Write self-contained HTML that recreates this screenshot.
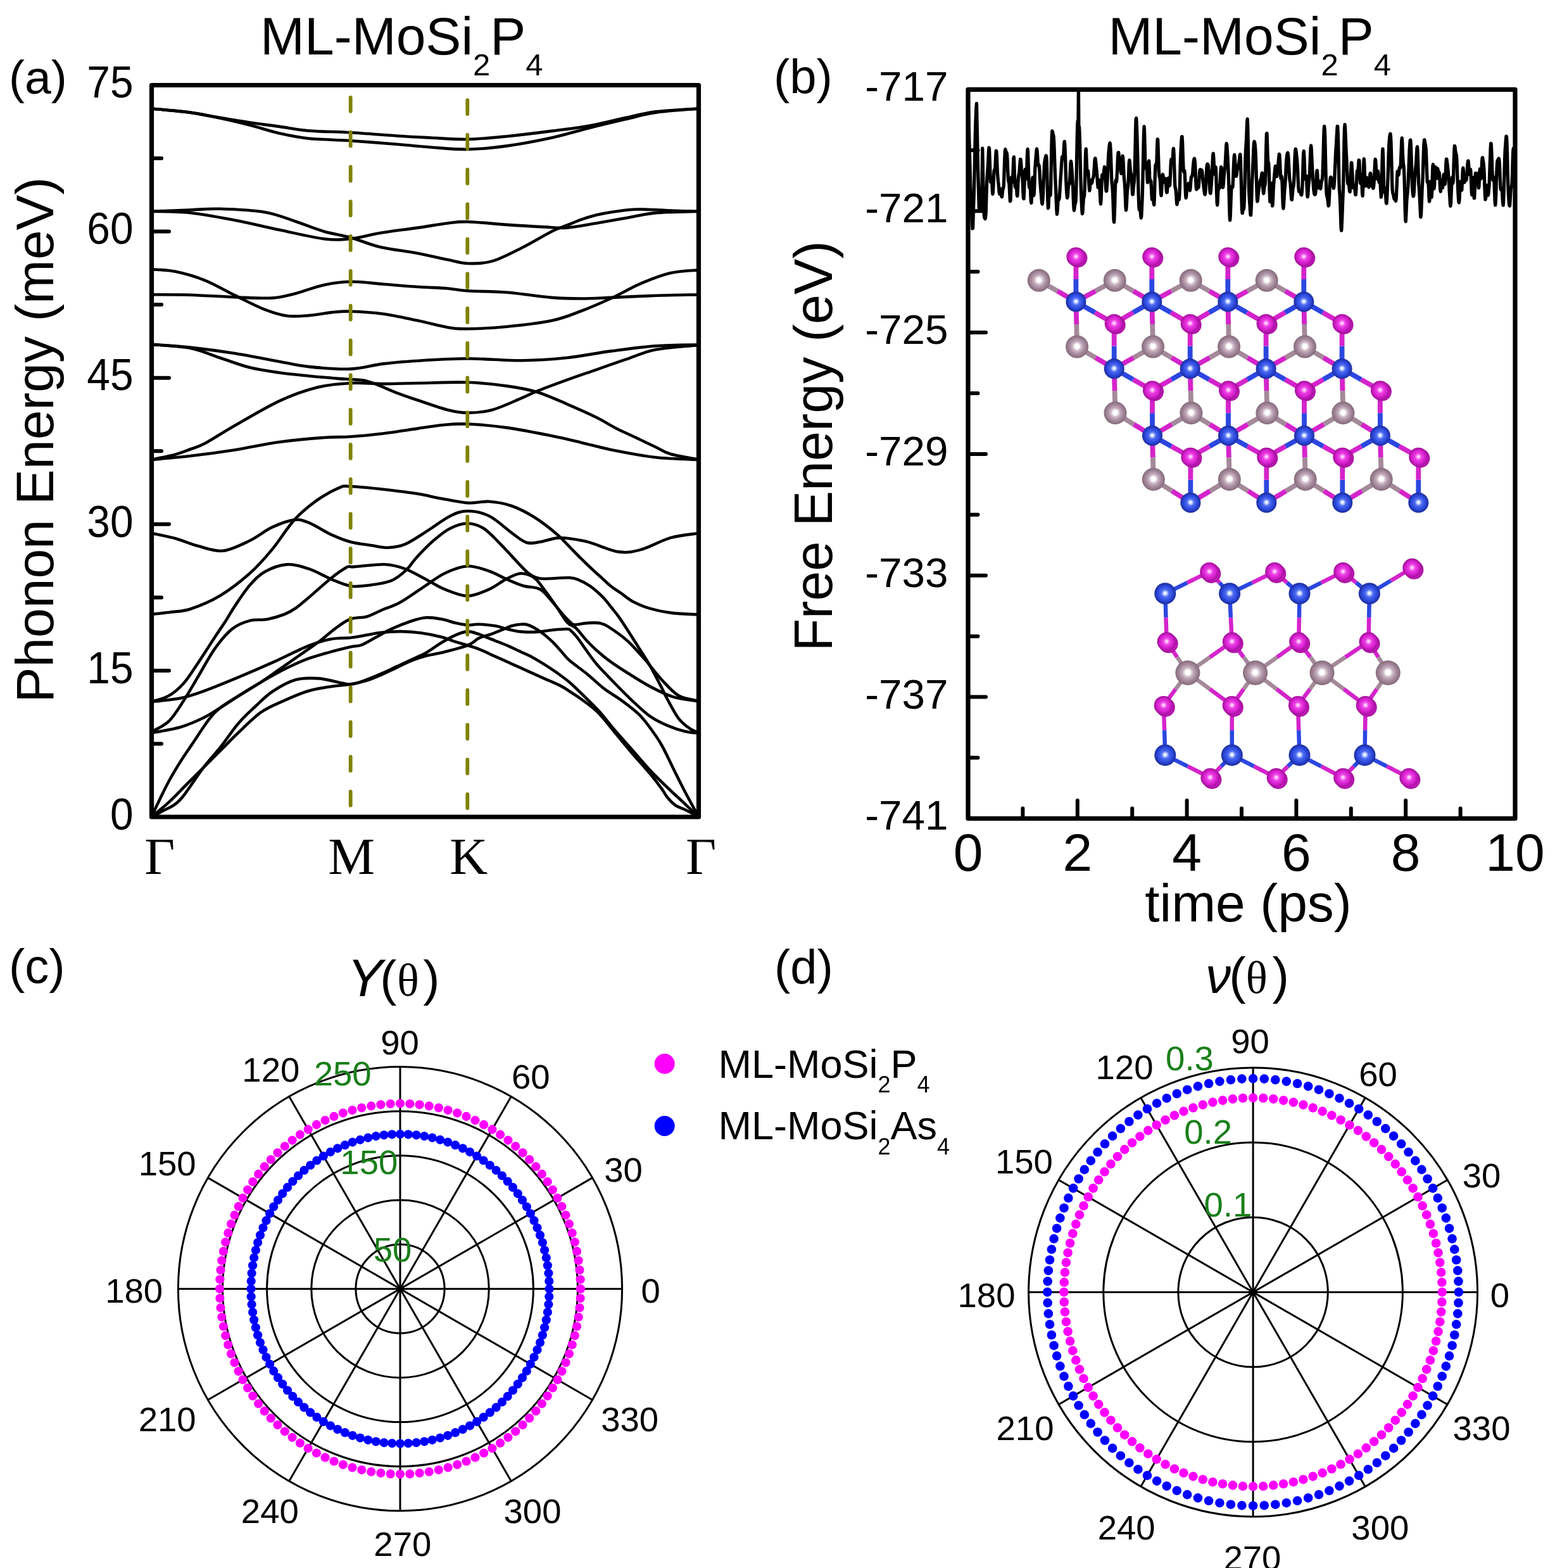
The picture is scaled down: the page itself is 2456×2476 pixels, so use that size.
<!DOCTYPE html><html><head><meta charset="utf-8"><title>ML-MoSi2P4 phonon, AIMD and elastic properties</title>
<style>html,body{margin:0;padding:0;background:#fff;}svg{display:block;}text{font-family:'Liberation Sans', Arial, sans-serif;fill:#000;}</style></head><body>
<svg width="2456" height="2476" viewBox="0 0 2456 2476">
<rect width="2456" height="2476" fill="#fff"/>
<g fill="none" stroke="#000" stroke-width="4.6" stroke-linejoin="round" stroke-linecap="round">
<path d="M239.5,171.5 C249.6,172.5 282,175.2 300,177.6 C318,180 331.7,183.2 347.4,185.8 C363.1,188.5 378.7,191.2 394.4,193.5 C410.1,195.8 425.8,197.7 441.4,199.9 C457,202.1 469.6,204.9 488.3,206.5 C507,208.1 530.1,207.9 553.6,209.3 C577.1,210.7 608.2,213.3 629.3,214.7 C650.4,216.1 661.8,216.6 680,217.5 C698.2,218.4 718.6,220.3 738.7,219.9 C758.9,219.5 778.8,217.4 800.9,215.2 C823,213 849.9,209.7 871.4,206.9 C892.9,204.2 910.4,202.2 930,198.7 C949.6,195.2 971.2,189.5 988.8,185.8 C1006.4,182.1 1016.7,178.8 1035.8,176.4 C1054.9,174 1092.2,172.3 1103.5,171.5"/>
<path d="M239.5,171.5 C249.6,172.5 282,175.1 300,177.6 C318,180.1 331.7,183.2 347.4,186.5 C363.1,189.8 378.7,193.5 394.4,197.5 C410.1,201.5 425.8,207 441.4,210.5 C457,214 469.6,216.8 488.3,218.7 C507,220.6 530.1,220.6 553.6,222.2 C577.1,223.8 608.2,226.3 629.3,228 C650.4,229.7 661.8,231.2 680,232.5 C698.2,233.8 718.6,236.2 738.7,235.8 C758.9,235.5 778.8,233.5 800.9,230.4 C823,227.3 849.9,222.2 871.4,217.5 C892.9,212.8 910.4,207.1 930,202.2 C949.6,197.3 971.2,192.2 988.8,188.1 C1006.4,184 1016.7,180.4 1035.8,177.6 C1054.9,174.8 1092.2,172.5 1103.5,171.5"/>
<path d="M239.5,333.8 C249.6,333.4 282,332.2 300,331.5 C318,330.8 327.8,329.2 347.4,329.8 C367,330.4 398.3,331.8 417.9,335 C437.5,338.2 449.2,343.9 464.9,349 C480.5,354.1 497,361.2 511.8,365.5 C526.6,369.8 538.9,370.9 553.6,375 C568.3,379.1 582.3,385.8 600,390 C617.7,394.2 642.2,396.6 660,400 C677.8,403.4 693.9,407.4 707,410.1 C720.1,412.8 727,415.6 738.7,416 C750.4,416.4 763.1,416.5 777.4,412.4 C791.7,408.3 808.7,399.1 824.4,391.3 C840.1,383.5 859.6,371.4 871.4,365.5 C883.1,359.6 887.1,359.1 894.9,356 C902.7,352.9 910.5,349.4 918.3,346.7 C926.1,344 934,341.6 941.8,339.6 C949.6,337.7 955.5,336.5 965.3,335 C975.1,333.5 988.9,331.3 1000.5,330.7 C1012.1,330.1 1025.2,330.9 1035,331.2 C1044.8,331.5 1047.9,332.2 1059.3,332.6 C1070.7,333 1096.1,333.6 1103.5,333.8"/>
<path d="M239.5,333.8 C249.6,334.2 278.1,333.7 300,336 C321.9,338.3 347.3,343.3 370.9,347.8 C394.5,352.3 417.9,358.1 441.4,363 C464.9,367.9 493.1,374.9 511.8,377.2 C530.5,379.5 538.9,378.5 553.6,377 C568.3,375.5 582.3,370.9 600,368 C617.7,365.1 642.2,362.2 660,359.6 C677.8,357 693.9,354.1 707,352.5 C720.1,350.9 723.1,349.8 738.7,350.2 C754.4,350.6 780.8,353.5 800.9,354.9 C821,356.3 843.9,357.6 859.6,358.4 C875.3,359.2 881.2,360.6 894.9,359.6 C908.6,358.6 926.1,355.1 941.8,352.5 C957.4,349.9 973.1,347 988.8,344.3 C1004.5,341.6 1016.7,337.9 1035.8,336.1 C1054.9,334.4 1092.2,334.2 1103.5,333.8"/>
<path d="M239.5,425.3 C245.8,425.9 262.9,425.9 277,428.8 C291.1,431.7 308.4,436.6 324,442.9 C339.6,449.2 355.2,458.8 370.9,466.4 C386.5,474 404.2,483.3 417.9,488.7 C431.6,494.1 441.4,497.2 453.1,498.8 C464.8,500.4 476.6,499 488.3,498.1 C500.1,497.2 512.7,494.5 523.6,493.4 C534.5,492.3 539.9,491.3 553.6,491.7 C567.3,492.1 588.1,493.3 605.8,495.7 C623.5,498.1 643.1,502.8 660,506.3 C676.9,509.8 693.9,514.8 707,516.9 C720.1,519 723.1,519.4 738.7,519.2 C754.4,519 778.8,517.9 800.9,515.7 C823,513.6 851.8,510.4 871.4,506.3 C891,502.2 902.6,496.9 918.3,491 C933.9,485.1 949.6,478.2 965.3,471 C981,463.8 996.6,454.2 1012.3,447.6 C1028,441 1044.1,434.6 1059.3,431.1 C1074.5,427.6 1096.1,427.2 1103.5,426.4"/>
<path d="M239.5,465.2 C249.7,465.3 278.6,465 300.5,465.7 C322.4,466.4 349.4,468.4 370.9,469.2 C392.4,470 413.9,471.5 429.6,470.6 C445.3,469.7 451.2,467.4 464.9,464 C478.6,460.6 497,453.1 511.8,449.9 C526.6,446.7 537.9,445 553.6,444.8 C569.3,444.6 588.1,447.3 605.8,448.7 C623.5,450.1 643.1,451.9 660,453 C676.9,454.1 693.9,454.4 707,455.5 C720.1,456.6 723.1,458.3 738.7,459.3 C754.4,460.3 778.8,459.9 800.9,461.7 C823,463.5 851.8,468.3 871.4,469.9 C891,471.5 902.6,471.5 918.3,471.5 C933.9,471.5 945.7,470.7 965.3,469.9 C984.9,469.1 1012.8,467.6 1035.8,466.8 C1058.8,466 1092.2,465.5 1103.5,465.2"/>
<path d="M239.5,543.9 C249.7,544.7 278.6,546.2 300.5,548.6 C322.4,551 347.4,554.3 370.9,558 C394.4,561.7 421.8,567.4 441.4,570.9 C461,574.4 469.6,577.1 488.3,579.1 C507,581.1 534,583.4 553.6,582.6 C573.2,581.8 586.4,576.7 605.8,574.4 C625.2,572.1 647.9,570.4 670,569 C692.1,567.6 713,566.2 738.7,566.2 C764.4,566.2 798.4,569.4 824.4,569.2 C850.4,569 871.4,567.5 894.9,565 C918.4,562.5 941.8,557.5 965.3,554.4 C988.8,551.3 1012.8,547.9 1035.8,546.2 C1058.8,544.5 1092.2,544.6 1103.5,544.3"/>
<path d="M239.5,543.9 C249.7,544.9 282.5,546.2 300.5,549.7 C318.5,553.2 331.8,559.9 347.4,565 C363,570.1 378.7,576.4 394.4,580.3 C410.1,584.2 425.8,586.3 441.4,588.5 C457,590.7 472.7,592.1 488.3,593.7 C503.9,595.3 524.4,597 535.3,597.9 C546.2,598.8 545.8,598.2 553.6,599 C561.4,599.8 569.7,598.9 582.3,602.6 C594.9,606.3 616.3,616.5 629.3,621.4 C642.2,626.3 647,627.7 660,632 C673,636.3 693.9,643.9 707,647.2 C720.1,650.5 727,651.9 738.7,651.9 C750.4,651.9 763.1,651.1 777.4,647.2 C791.7,643.3 812.6,633.3 824.4,628.4 C836.1,623.5 836.1,622.5 847.9,617.8 C859.6,613.1 879.2,605.9 894.9,600.2 C910.5,594.5 926.1,589.3 941.8,583.8 C957.4,578.3 973.1,572.7 988.8,567.4 C1004.5,562.1 1016.7,555.8 1035.8,552.1 C1054.9,548.4 1092.2,546.2 1103.5,545"/>
<path d="M239.5,725.8 C245.8,724.4 266.8,720.3 277,717.6 C287.2,714.9 292.7,712.4 300.5,709.5 C308.3,706.6 312.3,706.2 324,700 C335.7,693.8 351.3,683.1 370.9,672 C390.5,660.9 419.9,643.1 441.4,633.1 C462.9,623.1 481.3,616.7 500,612 C518.7,607.3 536,606 553.6,605 C571.2,604 588.1,606.1 605.8,606.1 C623.5,606.1 637.9,605.4 660,605 C682.1,604.6 715.2,603 738.7,603.8 C762.2,604.6 782.7,607.1 800.9,609.6 C819.1,612.1 832.2,614.3 847.9,619 C863.6,623.7 879.2,631.1 894.9,637.8 C910.5,644.5 928.9,652.6 941.8,659 C954.7,665.4 962.7,671 972.4,676 C982.1,681 989.4,684 1000,689 C1010.6,694 1025.9,701.3 1035.8,706 C1045.7,710.7 1048,713.7 1059.3,717 C1070.6,720.3 1096.1,724.3 1103.5,725.8"/>
<path d="M239.5,725.8 C249.7,724.8 278.6,722.5 300.5,720 C322.4,717.5 347.4,714.2 370.9,710.5 C394.4,706.8 417.9,701.2 441.4,698 C464.9,694.8 493.1,692.4 511.8,691 C530.5,689.6 537.9,690.6 553.6,689.5 C569.3,688.4 588.1,686.6 605.8,684.5 C623.5,682.4 644.3,678.9 660,676.6 C675.7,674.4 686.9,672.2 700,671 C713.1,669.8 721.9,668.8 738.7,669.5 C755.5,670.2 778.8,672.3 800.9,675.4 C823,678.5 851.8,684.4 871.4,688.3 C891,692.2 902.6,695.2 918.3,698.9 C933.9,702.5 945.7,706.3 965.3,710.2 C984.9,714.1 1012.8,719.7 1035.8,722.3 C1058.8,724.9 1092.2,725.2 1103.5,725.8"/>
<path d="M239.5,970 C244.6,969.4 259.8,967.9 270,966.5 C280.2,965.1 287.6,966.1 300.5,961.8 C313.4,957.5 331.8,950.2 347.4,940.8 C363,931.4 380.7,917.6 394.4,905.5 C408.1,893.4 417.9,882 429.6,867.9 C441.4,853.8 453.2,833.8 464.9,820.9 C476.6,808 488.3,798.8 500,790.4 C511.7,782 526.4,774.1 535.3,770.4 C544.2,766.7 541.9,767.6 553.6,768 C565.4,768.4 588.1,770.8 605.8,772.8 C623.5,774.8 645.1,777.4 660,779.8 C674.9,782.1 682.1,784.5 695.2,786.9 C708.3,789.3 725.5,793.2 738.5,794.1 C751.5,795 761.4,791.2 773,792 C784.6,792.8 796.6,794.9 808.4,799 C820.2,803.1 832.2,809.4 844,816.8 C855.8,824.2 870.1,835.5 879.4,843.4 C888.7,851.3 894.5,858.4 900,864 C905.5,869.6 907.3,871.7 912.7,877 C918.1,882.3 925.7,889.9 932.2,896 C938.7,902.1 946.3,908.9 951.8,913.9 C957.2,918.9 960.2,922 964.9,925.7 C969.6,929.4 974.2,932.1 980,936.1 C985.8,940.1 991.9,945.9 999.7,950 C1007.5,954.1 1016.2,957.9 1026.8,960.9 C1037.3,963.9 1050.2,966.5 1063,968.1 C1075.8,969.7 1096.8,970.1 1103.5,970.5"/>
<path d="M239.5,842 C245.8,843.4 264.9,847 277,850.3 C289.1,853.6 299.7,858.8 312.2,862 C324.7,865.2 338.4,871.2 352.1,869.8 C365.8,868.4 381.5,860 394.4,853.8 C407.3,847.6 417.9,838.2 429.6,832.7 C441.4,827.2 455.1,822.1 464.9,820.9 C474.7,819.7 478.5,821.7 488.3,825.6 C498.1,829.5 512.7,839.4 523.6,844.4 C534.5,849.4 543.1,852.9 553.6,855.7 C564.1,858.5 576.7,859.7 586.6,861.2 C596.5,862.7 604.3,865 613.2,864.7 C622.1,864.4 629.5,863.8 639.9,859.4 C650.2,855 663.5,845.5 675.3,838.1 C687.1,830.7 700.3,820.2 710.8,815 C721.3,809.8 727.9,807 738.3,807 C748.7,807 761.3,809.2 773,815 C784.7,820.8 798.6,834.6 808.4,841.6 C818.1,848.6 824.1,854.3 831.5,856.7 C838.9,859.1 844.8,857 852.8,855.8 C860.8,854.6 871.5,850.5 879.4,849.6 C887.3,848.7 891.6,849.4 900,850.5 C908.4,851.6 917.2,852.6 930,856.1 C942.8,859.6 963.3,869.4 977,871.4 C990.7,873.4 998.6,871.6 1012.3,867.9 C1026,864.2 1044.1,853.4 1059.3,849.1 C1074.5,844.8 1096.1,843.2 1103.5,842"/>
<path d="M239.5,1108 C244,1106.5 258,1103.7 266.5,1098.8 C275,1093.9 282.7,1087.2 290.3,1078.7 C297.9,1070.2 304,1059.9 312.2,1047.7 C320.4,1035.5 332.2,1017 339.6,1005.7 C347,994.4 351.6,988.1 356.8,980 C362,971.9 364.6,966.4 370.9,957.1 C377.2,947.8 386.5,933.3 394.4,924.3 C402.2,915.3 408.2,908.6 418,903.1 C427.8,897.6 441.4,892.2 453.1,891.4 C464.8,890.6 476.6,894.5 488.3,898.4 C500.1,902.3 512.7,910.3 523.6,914.8 C534.5,919.3 543.8,923.8 553.6,925.4 C563.4,927 571.6,925.7 582.3,924.3 C592.9,922.9 607.7,921.1 617.5,917.2 C627.3,913.3 634.3,906.9 641,900.8 C647.7,894.7 650.4,888.5 657.6,880.7 C664.8,872.9 675.3,861.8 684.2,854.1 C693.1,846.4 701.8,839.1 710.8,834.5 C719.8,829.9 729.4,826.5 738.3,826.5 C747.2,826.5 755.4,829 764.1,834.5 C772.8,840 781.8,850.5 790.7,859.4 C799.6,868.3 809.9,880.1 817.3,887.8 C824.7,895.5 829.2,901.2 835.1,905.5 C841,909.8 845.4,912.2 852.8,913.5 C860.2,914.8 871.5,913.2 879.4,913 C887.3,912.8 894.5,911.9 900,912.3 C905.5,912.7 907.3,913 912.7,915.2 C918.1,917.4 925.7,921.1 932.2,925.7 C938.7,930.3 946.3,937.2 951.8,942.6 C957.2,948 960.2,952.4 964.9,958.3 C969.6,964.2 972.7,967.2 980,977.9 C987.3,988.6 1000.9,1010.2 1008.7,1022.5 C1016.5,1034.8 1020.8,1040.9 1026.8,1051.5 C1032.8,1062.1 1040.5,1077.2 1045,1085.9 C1049.5,1094.7 1049.5,1095.8 1054,1104 C1058.5,1112.2 1066,1127 1072,1134.8 C1078,1142.6 1085,1147.3 1090.3,1151 C1095.5,1154.7 1101.3,1156 1103.5,1157"/>
<path d="M239.5,1155.5 C244,1152.8 258,1147.2 266.5,1139 C275,1130.8 282.7,1117.7 290.3,1106.1 C297.9,1094.5 304,1083.3 312.2,1069.6 C320.4,1055.9 330.5,1036.7 339.6,1023.9 C348.7,1011.1 357.9,1000.2 367,992.9 C376.1,985.6 385.3,982.6 394.4,980.1 C403.5,977.6 412.7,979.7 421.8,978 C430.9,976.3 441.6,973 449.2,970 C456.8,967 461,964.5 467.5,960 C474,955.5 478.9,950.9 488.3,943 C497.7,935.1 513.8,920.3 523.6,912.5 C533.4,904.7 542.1,899 547.1,896.1 C552.1,893.2 551.5,895.1 553.6,894.9 C555.8,894.7 551,895.5 560,894.9 C569,894.3 594.6,890.7 607.9,891.3 C621.2,891.9 628.7,894.2 639.9,898.4 C651.1,902.5 664.9,910.9 675.3,916.2 C685.6,921.5 691.5,926.3 702,930.4 C712.5,934.5 726.5,941 738.3,941 C750.1,941 762.8,934.8 773,930.4 C783.2,926 791.3,918.5 799.6,914.4 C807.9,910.2 815.2,905.8 822.6,905.5 C830,905.2 837.5,907.9 844,912.6 C850.5,917.3 855.8,926.2 861.7,933.9 C867.6,941.6 873.7,950.6 879.4,958.8 C885.1,967 891,977.5 896,983 C901,988.5 904.7,987.3 909.6,991.8 C914.5,996.3 920,1004.4 925.2,1010 C930.4,1015.6 934.5,1020 940.9,1025.7 C947.3,1031.4 955.1,1038.1 963.4,1044.2 C971.7,1050.3 980,1055.7 990.6,1062.3 C1001.2,1068.9 1014.7,1077.8 1026.8,1084.1 C1038.9,1090.4 1050.2,1096.5 1063,1100.4 C1075.8,1104.3 1096.8,1106.3 1103.5,1107.5"/>
<path d="M239.5,1290 C241,1286.8 243.8,1279.9 248.3,1270.6 C252.8,1261.3 260.4,1245.3 266.5,1234 C272.6,1222.7 278.7,1212.7 284.8,1203 C290.9,1193.3 295.5,1186.9 303.1,1175.6 C310.7,1164.3 322.9,1145.2 330.5,1135.4 C338.1,1125.7 340.4,1123.5 348.7,1117.1 C356.9,1110.7 369.3,1103.7 380,1097 C390.7,1090.3 402.7,1083.4 412.7,1076.9 C422.7,1070.4 430.9,1064.4 440,1058 C449.1,1051.6 456.8,1046.1 467.5,1038.6 C478.2,1031.1 493.4,1020.9 504,1013 C514.6,1005.1 523.1,997 531.4,991.1 C539.6,985.2 545.5,980.4 553.5,977.5 C561.5,974.6 570.9,976 579.1,973.7 C587.3,971.4 594,967.2 602.6,963.5 C611.2,959.8 620.4,957.5 631,951.7 C641.6,945.9 654.7,936.3 666.5,928.6 C678.3,920.9 690,911.3 702,905.5 C714,899.7 726.5,894.6 738.3,894 C750.1,893.4 762.8,898.6 773,902 C783.2,905.4 790.7,910.6 799.6,914.4 C808.5,918.2 817.3,922.3 826.2,925 C835.1,927.7 845.4,926.5 852.8,930.4 C860.2,934.2 864.7,941.6 870.6,948.1 C876.5,954.6 883.4,963.8 888.3,969.4 C893.2,975 896.9,978.9 900,981.8 C903.1,984.6 903.2,986.1 907,986.5 C910.8,986.9 917.4,984.9 922.6,984.4 C927.8,983.9 933.9,983.4 938.3,983.4 C942.6,983.4 945.1,983.4 948.7,984.4 C952.3,985.4 953,984.6 960,989.1 C967,993.6 981,1003 990.6,1011.6 C1000.2,1020.2 1008.7,1030.3 1017.8,1040.6 C1026.9,1050.9 1036,1063.5 1045,1073.2 C1054,1082.9 1062.3,1093 1072.1,1098.6 C1081.8,1104.2 1098.3,1105.6 1103.5,1107"/>
<path d="M239.5,1157.3 C247.1,1155.8 271.2,1152.2 284.8,1148.2 C298.4,1144.2 310.7,1138.7 321.3,1133.5 C331.9,1128.3 338,1123.8 348.7,1117.1 C359.4,1110.4 374.6,1100.1 385.3,1093.4 C396,1086.7 402.1,1083 412.7,1076.9 C423.3,1070.8 437,1062.9 449.2,1056.8 C461.4,1050.7 473.6,1045 485.8,1040.4 C498,1035.8 511,1032.6 522.3,1029.4 C533.6,1026.2 545.3,1023.4 553.5,1021.5 C561.7,1019.6 564.4,1020.9 571.3,1018.3 C578.2,1015.7 587,1010 594.8,1005.8 C602.6,1001.6 609.2,997.4 618.3,993.2 C627.4,989 640.5,983.7 649.6,980.7 C658.7,977.7 665.3,975.7 673.1,975.2 C680.9,974.7 688.8,976.2 696.6,977.6 C704.4,979 713.1,982.2 720.1,983.8 C727.1,985.4 732.5,986.7 738.5,987 C744.5,987.3 748.8,985.5 756.1,985.7 C763.4,985.9 774.6,987 782.2,988.3 C789.8,989.6 795.3,992 801.8,993.5 C808.3,995 814.8,996.6 821.3,997.4 C827.8,998.2 835.4,998.1 840.9,998.1 C846.4,998.1 848.6,998 854,997.4 C859.4,996.8 866.6,995.5 873.5,994.8 C880.4,994.1 890.8,993.1 895.5,993.3 C900.2,993.5 899,993.5 901.8,995.9 C904.6,998.2 908.3,1002.4 912.2,1007.4 C916.1,1012.4 920,1018.6 925.2,1025.7 C930.4,1032.8 935.6,1040.9 943.5,1050 C951.4,1059.1 963.1,1070.9 972.5,1080.5 C981.9,1090.1 990.7,1099.1 999.7,1107.6 C1008.8,1116 1017.8,1124.8 1026.8,1131.2 C1035.8,1137.6 1044.9,1141.8 1054,1145.7 C1063.1,1149.6 1073,1152.8 1081.2,1154.8 C1089.5,1156.8 1099.8,1157.5 1103.5,1158"/>
<path d="M239.5,1108 C247.1,1107.1 271.2,1105.2 284.8,1102.5 C298.4,1099.8 306.1,1097 321.3,1091.5 C336.5,1086 357.8,1077.2 376.1,1069.6 C394.4,1062 412.7,1054.1 431,1045.9 C449.3,1037.7 470.6,1026.4 485.8,1020.3 C501,1014.2 511,1011.5 522.3,1009.3 C533.6,1007.1 545.3,1007.9 553.5,1007 C561.7,1006.1 563.1,1005.6 571.3,1004.2 C579.5,1002.8 592.1,999.9 602.6,998.7 C613.1,997.5 623.5,997 634,997.1 C644.5,997.2 654.9,998 665.3,999.5 C675.7,1001 687.5,1003.4 696.6,1005.8 C705.7,1008.1 713.1,1011.4 720.1,1013.6 C727.1,1015.8 732.5,1017.1 738.5,1019 C744.5,1020.9 748.8,1021.9 756.1,1024.8 C763.4,1027.7 773.5,1032.7 782.2,1036.6 C790.9,1040.5 799.6,1044.4 808.3,1048.3 C817,1052.2 825.7,1056.2 834.4,1060.1 C843.1,1064 851.8,1067.9 860.5,1071.8 C869.2,1075.7 880,1080.2 886.6,1083.6 C893.2,1087 894.8,1088.6 900,1092 C905.2,1095.4 910.6,1098.4 918.1,1104 C925.6,1109.6 936.2,1116.7 945.3,1125.8 C954.4,1134.9 963.4,1147.5 972.5,1158.4 C981.6,1169.3 990.7,1180.4 999.7,1191 C1008.8,1201.6 1019.2,1212.8 1026.8,1221.8 C1034.3,1230.8 1040.5,1239.1 1045,1245.3 C1049.5,1251.5 1050.4,1254.6 1054,1259 C1057.6,1263.4 1061.5,1268 1066.7,1271.5 C1071.9,1275 1078.9,1276.9 1085,1280 C1091.1,1283.1 1100.4,1288.3 1103.5,1290"/>
<path d="M239.5,1290 C242.6,1288.3 252,1283.2 258,1280 C264,1276.8 270.3,1274.6 275.7,1270.6 C281.1,1266.6 282.7,1265.8 290.3,1256 C297.9,1246.2 311.6,1224.9 321.3,1212.1 C331,1199.3 339.6,1190.8 348.7,1179.2 C357.8,1167.6 367,1153.4 376.1,1142.7 C385.2,1132 394.4,1123.8 403.5,1115.3 C412.6,1106.8 420.3,1098.5 431,1091.5 C441.7,1084.5 455.3,1076.6 467.5,1073.3 C479.7,1070 491.8,1070.5 504,1071.4 C516.2,1072.3 532.4,1077.2 540.6,1078.7 C548.9,1080.2 548.4,1080.9 553.5,1080.5 C558.6,1080.1 563.1,1079 571.3,1076.2 C579.5,1073.4 593.5,1067.6 602.6,1063.7 C611.7,1059.8 618.3,1056.4 626.1,1052.7 C633.9,1049 641.8,1045.5 649.6,1041.8 C657.4,1038.1 665.3,1035.2 673.1,1030.8 C680.9,1026.4 688.8,1019.9 696.6,1015.2 C704.4,1010.5 713.1,1005.6 720.1,1002.6 C727.1,999.6 732.5,997.3 738.5,997.1 C744.5,996.9 751,999.7 756.1,1001.3 C761.2,1002.9 764.8,1004.9 769.1,1006.6 C773.5,1008.4 776.8,1009.6 782.2,1011.8 C787.7,1014 795.3,1016.8 801.8,1019.6 C808.3,1022.4 814.8,1025.7 821.3,1028.7 C827.8,1031.8 834.4,1034.4 840.9,1037.9 C847.4,1041.4 854,1045.5 860.5,1049.6 C867,1053.7 873.6,1058 880.1,1062.7 C886.6,1067.4 893.3,1072.1 899.6,1077.5 C905.9,1082.9 910.5,1087.6 918.1,1095 C925.7,1102.4 936.2,1112.1 945.3,1122.1 C954.4,1132.1 963.4,1144.2 972.5,1154.8 C981.6,1165.4 990.7,1175.2 999.7,1185.5 C1008.8,1195.8 1017.8,1206.7 1026.8,1216.4 C1035.8,1226.1 1044.9,1234.8 1054,1243.5 C1063.1,1252.2 1073,1261.2 1081.2,1268.9 C1089.5,1276.7 1099.8,1286.5 1103.5,1290"/>
<path d="M239.5,1290 C244,1286.2 257.4,1275.3 266.5,1266.9 C275.6,1258.5 284.8,1248.6 293.9,1239.5 C303,1230.4 312.2,1221.2 321.3,1212.1 C330.4,1203 339.6,1193.8 348.7,1184.7 C357.8,1175.6 365.4,1167.3 376.1,1157.3 C386.8,1147.2 400.5,1132.9 412.7,1124.4 C424.9,1115.9 437,1111.6 449.2,1106.1 C461.4,1100.6 473.6,1095.2 485.8,1091.5 C498,1087.8 511,1086 522.3,1084.2 C533.6,1082.4 544,1082.1 553.5,1080.5 C563,1078.9 570.9,1077.1 579.1,1074.6 C587.3,1072.1 594.8,1068.7 602.6,1065.3 C610.4,1061.9 618.3,1058 626.1,1054.3 C633.9,1050.6 641.8,1046.4 649.6,1043.3 C657.4,1040.2 665.3,1037.6 673.1,1035.5 C680.9,1033.4 685.7,1033.5 696.6,1030.8 C707.5,1028.1 728.6,1022.9 738.5,1019.1 C748.4,1015.3 749.9,1010.9 756.1,1007.9 C762.3,1004.9 769.2,1003.7 775.7,1001.3 C782.2,998.9 789.8,995.7 795.2,993.5 C800.6,991.3 803.5,989.6 808.3,988.3 C813.1,987 819.6,985.9 824,985.7 C828.4,985.5 830.5,985.7 834.4,987 C838.3,988.3 843,990.9 847.4,993.5 C851.8,996.1 856.1,999.2 860.5,1002.7 C864.9,1006.2 869.1,1010.1 873.5,1014.4 C877.9,1018.7 882.2,1023.9 886.6,1028.7 C891,1033.5 892.8,1037.2 899.6,1043.1 C906.4,1049 918.1,1056.8 927.2,1064.2 C936.3,1071.6 945.4,1080.8 954.4,1087.7 C963.4,1094.6 972.5,1099.2 981.5,1105.8 C990.5,1112.4 1001.2,1120.3 1008.7,1127.6 C1016.2,1134.8 1020.8,1141.1 1026.8,1149.3 C1032.8,1157.5 1039,1165.9 1045,1176.5 C1051,1187.1 1057,1200.6 1063,1212.7 C1069,1224.8 1074.5,1236.1 1081.2,1249 C1088,1261.9 1099.8,1283.2 1103.5,1290"/>
</g>
<line x1="553.7" y1="153.8" x2="553.7" y2="1278" stroke="#808000" stroke-width="5.8" stroke-linecap="round" stroke-dasharray="22 32.8"/>
<line x1="738.3" y1="158.1" x2="738.3" y2="1278" stroke="#808000" stroke-width="5.8" stroke-linecap="round" stroke-dasharray="22 32.8"/>
<g stroke="#000" stroke-width="6" stroke-linecap="round">
<line x1="243" y1="1058.9" x2="267" y2="1058.9"/>
<line x1="243" y1="827.8" x2="267" y2="827.8"/>
<line x1="243" y1="596.7" x2="267" y2="596.7"/>
<line x1="243" y1="365.6" x2="267" y2="365.6"/>
<line x1="243" y1="1174.5" x2="255" y2="1174.5"/>
<line x1="243" y1="943.4" x2="255" y2="943.4"/>
<line x1="243" y1="712.2" x2="255" y2="712.2"/>
<line x1="243" y1="481.1" x2="255" y2="481.1"/>
<line x1="243" y1="250" x2="255" y2="250"/>
</g>
<rect x="239.5" y="134.5" width="864" height="1155.5" fill="none" stroke="#000" stroke-width="7.2" stroke-linejoin="round"/>
<text transform="translate(210.5,1309.7) scale(0.94,1)" font-size="70" text-anchor="end">0</text>
<text transform="translate(210.5,1078.6) scale(0.94,1)" font-size="70" text-anchor="end">15</text>
<text transform="translate(210.5,847.5) scale(0.94,1)" font-size="70" text-anchor="end">30</text>
<text transform="translate(210.5,616.4) scale(0.94,1)" font-size="70" text-anchor="end">45</text>
<text transform="translate(210.5,385.3) scale(0.94,1)" font-size="70" text-anchor="end">60</text>
<text transform="translate(210.5,154.2) scale(0.94,1)" font-size="70" text-anchor="end">75</text>
<text transform="translate(84,694.5) rotate(-90)" font-size="83.9" text-anchor="middle">Phonon Energy (meV)</text>
<text x="252.2" y="1379.5" font-size="83" text-anchor="middle" style="font-family:'Liberation Serif', 'Times New Roman', serif">Γ</text>
<text x="555.2" y="1379.5" font-size="83" text-anchor="middle" style="font-family:'Liberation Serif', 'Times New Roman', serif">M</text>
<text x="740.3" y="1379.5" font-size="83" text-anchor="middle" style="font-family:'Liberation Serif', 'Times New Roman', serif">K</text>
<text x="1107.3" y="1379.5" font-size="83" text-anchor="middle" style="font-family:'Liberation Serif', 'Times New Roman', serif">Γ</text>
<text x="411" y="86" font-size="84">ML-MoSi<tspan font-size="49" dy="32.7">2</tspan><tspan dy="-32.7">P</tspan><tspan font-size="49" dy="32.7">4</tspan></text>
<text x="14" y="148" font-size="75">(a)</text>
<text x="1750.4" y="86.1" font-size="84">ML-MoSi<tspan font-size="49" dy="32.7">2</tspan><tspan dy="-32.7">P</tspan><tspan font-size="49" dy="32.7">4</tspan></text>
<text x="1222" y="147" font-size="76">(b)</text>
<g stroke="#000" stroke-width="6" stroke-linecap="round">
<line x1="1532" y1="333.2" x2="1557" y2="333.2"/>
<line x1="1532" y1="525" x2="1557" y2="525"/>
<line x1="1532" y1="716.9" x2="1557" y2="716.9"/>
<line x1="1532" y1="908.8" x2="1557" y2="908.8"/>
<line x1="1532" y1="1100.6" x2="1557" y2="1100.6"/>
<line x1="1532" y1="237.2" x2="1544.5" y2="237.2"/>
<line x1="1532" y1="429.1" x2="1544.5" y2="429.1"/>
<line x1="1532" y1="621" x2="1544.5" y2="621"/>
<line x1="1532" y1="812.8" x2="1544.5" y2="812.8"/>
<line x1="1532" y1="1004.7" x2="1544.5" y2="1004.7"/>
<line x1="1532" y1="1196.6" x2="1544.5" y2="1196.6"/>
<line x1="1615.4" y1="1289" x2="1615.4" y2="1276.5"/>
<line x1="1701.8" y1="1289" x2="1701.8" y2="1264"/>
<line x1="1788.2" y1="1289" x2="1788.2" y2="1276.5"/>
<line x1="1874.6" y1="1289" x2="1874.6" y2="1264"/>
<line x1="1961" y1="1289" x2="1961" y2="1276.5"/>
<line x1="2047.4" y1="1289" x2="2047.4" y2="1264"/>
<line x1="2133.8" y1="1289" x2="2133.8" y2="1276.5"/>
<line x1="2220.2" y1="1289" x2="2220.2" y2="1264"/>
<line x1="2306.6" y1="1289" x2="2306.6" y2="1276.5"/>
</g>
<text x="1497.5" y="159.2" font-size="65.6" text-anchor="end">-717</text>
<text x="1497.5" y="351.1" font-size="65.6" text-anchor="end">-721</text>
<text x="1497.5" y="542.9" font-size="65.6" text-anchor="end">-725</text>
<text x="1497.5" y="734.8" font-size="65.6" text-anchor="end">-729</text>
<text x="1497.5" y="926.7" font-size="65.6" text-anchor="end">-733</text>
<text x="1497.5" y="1118.5" font-size="65.6" text-anchor="end">-737</text>
<text x="1497.5" y="1310.4" font-size="65.6" text-anchor="end">-741</text>
<text x="1529" y="1375" font-size="84" text-anchor="middle">0</text>
<text x="1701.8" y="1375" font-size="84" text-anchor="middle">2</text>
<text x="1874.6" y="1375" font-size="84" text-anchor="middle">4</text>
<text x="2047.4" y="1375" font-size="84" text-anchor="middle">6</text>
<text x="2220.2" y="1375" font-size="84" text-anchor="middle">8</text>
<text x="2393" y="1375" font-size="84" text-anchor="middle">10</text>
<text x="1971.5" y="1455.3" font-size="84" text-anchor="middle">time (ps)</text>
<text transform="translate(1313.5,704.5) rotate(-90)" font-size="84.5" text-anchor="middle">Free Energy (eV)</text>
<polyline fill="none" stroke="#000" stroke-width="5.3" stroke-linejoin="round" points="1529,146.1 1529.5,168.6 1530.1,191.1 1530.6,213.5 1531.2,234 1531.7,254 1532.2,274 1532.8,294 1533.3,314 1533.9,323.4 1534.4,332.8 1534.9,342.2 1535.5,351.7 1536,361.1 1536.6,360 1537.1,343.2 1537.6,326.5 1538.2,309.7 1538.7,289.5 1539.3,264.3 1539.8,239.2 1540.3,214 1540.9,193.8 1541.4,181 1542,168.3 1542.5,163.5 1543,190.5 1543.6,217.4 1544.1,244.4 1544.7,269.9 1545.2,289.4 1545.7,308.9 1546.3,328.4 1546.8,329.4 1547.4,330.4 1547.9,331.4 1548.4,332.4 1549,331 1549.5,320 1550.1,309 1550.6,298 1551.1,287 1551.7,234.2 1552.2,257.7 1552.8,285.2 1553.3,310.6 1553.8,330.2 1554.4,340.5 1554.9,343.8 1555.5,344.7 1556,345.5 1556.5,343.9 1557.1,336.2 1557.6,320.9 1558.2,302 1558.7,286.1 1559.2,277.4 1559.8,269.6 1560.3,263 1560.9,253.5 1561.4,241.6 1561.9,233.1 1562.5,234.2 1563,246.6 1563.6,265 1564.1,280.7 1564.6,287.6 1565.2,285 1565.7,279.5 1566.3,280.1 1566.8,288.7 1567.3,300.2 1567.9,306.5 1568.4,303 1569,291.6 1569.5,279.4 1570,270.4 1570.6,268.3 1571.1,269.2 1571.7,266.7 1572.2,258 1572.7,246.3 1573.3,238.1 1573.8,238.6 1574.4,248 1574.9,261.4 1575.4,273.1 1576,280.9 1576.5,286.3 1577.1,290.4 1577.6,296.6 1578.1,303.1 1578.7,306.4 1579.2,304.8 1579.8,300.6 1580.3,298.1 1580.8,300.1 1581.4,305.6 1581.9,310.4 1582.5,310.9 1583,307.1 1583.5,302.1 1584.1,298.9 1584.6,297.3 1585.2,293.9 1585.7,283.5 1586.2,266.9 1586.8,250.2 1587.3,239 1587.9,235.8 1588.4,238.1 1588.9,240.9 1589.5,241.4 1590,241.1 1590.6,244.2 1591.1,253.3 1591.6,266.6 1592.2,278.9 1592.7,286 1593.3,286.5 1593.8,288.9 1594.3,297 1594.9,309 1595.4,317.8 1596,316.6 1596.5,304.8 1597,289.4 1597.6,279.8 1598.1,280.6 1598.7,286.9 1599.2,287.8 1599.7,279.4 1600.3,263.7 1600.8,250 1601.4,247.9 1601.9,259.4 1602.4,277.6 1603,292 1603.5,295.6 1604.1,290.3 1604.6,286 1605.1,289 1605.7,298.6 1606.2,307.8 1606.8,309.6 1607.3,302.5 1607.8,290.9 1608.4,281.6 1608.9,277.2 1609.5,274.3 1610,270.7 1610.5,264.1 1611.1,256.2 1611.6,251.3 1612.2,252.2 1612.7,258.3 1613.2,265.7 1613.8,271.9 1614.3,277.1 1614.9,282.1 1615.4,291.2 1615.9,303.4 1616.5,313 1617,313.8 1617.6,304 1618.1,287.6 1618.6,273 1619.2,267.5 1619.7,271 1620.3,278.5 1620.8,282.8 1621.3,277.6 1621.9,262.9 1622.4,245.6 1623,235.4 1623.5,238.6 1624,254.1 1624.6,274.4 1625.1,290.5 1625.7,296.2 1626.2,293.7 1626.7,291.9 1627.3,296.6 1627.8,307.6 1628.4,318.3 1628.9,320.6 1629.4,311.5 1630,295.6 1630.5,282.6 1631.1,280.1 1631.6,288.5 1632.1,301.1 1632.7,308.8 1633.2,306.3 1633.8,294.6 1634.3,279.1 1634.8,266.3 1635.4,257.7 1635.9,251 1636.5,244.2 1637,237.9 1637.5,235.2 1638.1,238.4 1638.6,246.5 1639.2,255.3 1639.7,260.7 1640.2,261.5 1640.8,260.6 1641.3,262.3 1641.9,269.2 1642.4,279.2 1642.9,288 1643.5,296 1644,302.7 1644.6,309 1645.1,315.3 1645.6,320.5 1646.2,322.2 1646.7,318.7 1647.3,309.9 1647.8,297.9 1648.3,285.5 1648.9,273.4 1649.4,262.2 1650,255.2 1650.5,251.7 1651,249.7 1651.6,247.6 1652.1,245.7 1652.7,246.9 1653.2,255.5 1653.7,274.1 1654.3,296 1654.8,316.9 1655.4,328.9 1655.9,327.5 1656.4,316.2 1657,303.8 1657.5,298.9 1658.1,302.8 1658.6,309 1659.1,307.9 1659.7,293.1 1660.2,263.4 1660.8,234 1661.3,214.3 1661.8,207 1662.4,208 1662.9,211.1 1663.5,212.9 1664,215.1 1664.5,221.6 1665.1,234.1 1665.6,250.6 1666.2,267.5 1666.7,281.2 1667.2,290.9 1667.8,303.5 1668.3,318.6 1668.9,331.9 1669.4,338.3 1669.9,335.4 1670.5,326.5 1671,317.7 1671.6,313.6 1672.1,314.2 1672.6,315.2 1673.2,312.4 1673.7,304.8 1674.3,295 1674.8,286.2 1675.3,279.3 1675.9,270.8 1676.4,261.9 1677,253.4 1677.5,248 1678,247.3 1678.6,249.7 1679.1,250.8 1679.7,246.5 1680.2,237.1 1680.7,227.3 1681.3,223.4 1681.8,228.6 1682.4,241.8 1682.9,258.8 1683.4,275.9 1684,290.9 1684.5,300.7 1685.1,308.6 1685.6,312.5 1686.1,310.9 1686.7,304.3 1687.2,296.3 1687.8,291.1 1688.3,290.2 1688.8,290.9 1689.4,289.1 1689.9,279.1 1690.5,266.8 1691,257.5 1691.5,254.7 1692.1,258.2 1692.6,264.8 1693.2,272 1693.7,280.5 1694.2,287.9 1694.8,300.3 1695.3,315.5 1695.9,327.7 1696.4,332.3 1696.9,329.5 1697.5,324.2 1698,321.1 1698.6,320.7 1699.1,317.6 1699.6,305.7 1700.2,280.4 1700.7,244.8 1701.3,214.1 1701.8,196 1702.3,190.7 1702.9,203.7 1703.4,141.3 1704,218 1704.5,199.8 1705,209.3 1705.6,227 1706.1,250.8 1706.7,276.1 1707.2,293.4 1707.7,307.7 1708.3,321.1 1708.8,332.1 1709.4,337.7 1709.9,335.8 1710.4,327.8 1711,318.5 1711.5,312.9 1712.1,311.2 1712.6,308.9 1713.1,299.8 1713.7,279.6 1714.2,255.1 1714.8,238 1715.3,235.1 1715.8,245.6 1716.4,261.3 1716.9,272.5 1717.5,274.7 1718,271.3 1718.5,269.7 1719.1,275.3 1719.6,285.2 1720.2,295.9 1720.7,301.1 1721.2,298.8 1721.8,292.2 1722.3,286.5 1722.9,285 1723.4,287 1723.9,289.3 1724.5,289.3 1725,287 1725.6,283.7 1726.1,281.6 1726.6,280.7 1727.2,278.6 1727.7,273.3 1728.3,264.9 1728.8,256.3 1729.3,250.8 1729.9,250.1 1730.4,253.5 1731,258.7 1731.5,263.9 1732,268.9 1732.6,275.1 1733.1,283.1 1733.7,291.5 1734.2,296.1 1734.7,294.8 1735.3,289.4 1735.8,284.2 1736.4,284.3 1736.9,292.3 1737.4,305.7 1738,318 1738.5,322.1 1739.1,315.2 1739.6,300.4 1740.1,285.1 1740.7,276.3 1741.2,275.8 1741.8,278.9 1742.3,281.7 1742.8,279.7 1743.4,273.2 1743.9,266.1 1744.5,263.5 1745,268 1745.5,277.8 1746.1,288.4 1746.6,297.2 1747.2,301.9 1747.7,301.6 1748.2,296.9 1748.8,288.8 1749.3,277.6 1749.9,264.2 1750.4,252.4 1750.9,243.3 1751.5,236.7 1752,231.5 1752.6,227.4 1753.1,225.8 1753.6,229.1 1754.2,238.7 1754.7,253.5 1755.3,270 1755.8,284.4 1756.3,290.8 1756.9,295.1 1757.4,303 1758,316.6 1758.5,333.4 1759,347.1 1759.6,350.8 1760.1,342 1760.7,323.9 1761.2,304 1761.7,289.8 1762.3,284.5 1762.8,286.2 1763.4,287.3 1763.9,282.4 1764.4,272.4 1765,259.4 1765.5,247.7 1766.1,241.1 1766.6,240.7 1767.1,244.6 1767.7,249.9 1768.2,254.3 1768.8,257.9 1769.3,262 1769.8,267.2 1770.4,272.2 1770.9,274 1771.5,270 1772,261.1 1772.5,251.4 1773.1,246.2 1773.6,248.7 1774.2,257.6 1774.7,268.7 1775.2,278.3 1775.8,284.5 1776.3,289.8 1776.9,299.6 1777.4,313.3 1777.9,326 1778.5,331.9 1779,328.3 1779.6,318.1 1780.1,307.3 1780.6,300.4 1781.2,296.9 1781.7,292.9 1782.3,284.8 1782.8,269.7 1783.3,257.3 1783.9,252.8 1784.4,256.7 1785,264.5 1785.5,270.6 1786,273.1 1786.6,275.3 1787.1,279.5 1787.7,288.3 1788.2,299.6 1788.7,307.1 1789.3,307 1789.8,300.9 1790.4,294.1 1790.9,290.5 1791.4,287 1792,275.2 1792.5,255 1793.1,228.5 1793.6,203.4 1794.1,188.2 1794.7,186.6 1795.2,196.1 1795.8,211.3 1796.3,228.8 1796.8,249 1797.4,273.6 1797.9,298.9 1798.5,317 1799,328.3 1799.5,331.3 1800.1,329.4 1800.6,328.8 1801.2,333 1801.7,340 1802.2,344.2 1802.8,341.4 1803.3,331.5 1803.9,318.1 1804.4,303.7 1804.9,283.8 1805.5,257.9 1806,230.6 1806.6,208.2 1807.1,199.7 1807.6,209.1 1808.2,231.3 1808.7,253.9 1809.3,265.9 1809.8,265 1810.3,258.9 1810.9,258.3 1811.4,267.5 1812,281.1 1812.5,288.3 1813,282.8 1813.6,268.2 1814.1,255.5 1814.7,253.9 1815.2,264 1815.7,277.9 1816.3,286.4 1816.8,287 1817.4,285.3 1817.9,286.4 1818.4,295.4 1819,307.6 1819.5,315.1 1820.1,314.2 1820.6,308.9 1821.1,307.1 1821.7,312.5 1822.2,321.1 1822.8,323.5 1823.3,313.5 1823.8,293.5 1824.4,273.8 1824.9,261.4 1825.5,259.7 1826,263.3 1826.5,261.6 1827.1,249.7 1827.6,232.2 1828.2,219.7 1828.7,220.6 1829.2,235 1829.8,255.1 1830.3,271 1830.9,278.4 1831.4,280.1 1831.9,280.6 1832.5,286.3 1833,296.8 1833.6,306.2 1834.1,308.8 1834.6,302.8 1835.2,291.6 1835.7,281 1836.3,275.5 1836.8,276.4 1837.3,281.2 1837.9,285.7 1838.4,287.9 1839,287 1839.5,284.4 1840,281.8 1840.6,281.9 1841.1,285.7 1841.7,292.5 1842.2,299.6 1842.7,304 1843.3,303.7 1843.8,298.5 1844.4,290.8 1844.9,284 1845.4,281.1 1846,283.2 1846.5,288.6 1847.1,293.4 1847.6,292.6 1848.1,284.4 1848.7,271.7 1849.2,259.1 1849.8,251.7 1850.3,251.5 1850.8,255.6 1851.4,258.2 1851.9,254.8 1852.5,245.7 1853,236.6 1853.5,234.5 1854.1,243.2 1854.6,260 1855.2,278.1 1855.7,291.5 1856.2,296.7 1856.8,298.1 1857.3,302.2 1857.9,310.3 1858.4,319 1858.9,322.9 1859.5,319.7 1860,312.6 1860.6,307.4 1861.1,308 1861.6,312.6 1862.2,315.5 1862.7,311.2 1863.3,298.7 1863.8,278.5 1864.3,258.3 1864.9,242.8 1865.4,231.4 1866,222.2 1866.5,216 1867,215.8 1867.6,224.3 1868.1,240.2 1868.7,257.3 1869.2,268.6 1869.7,271.3 1870.3,269.2 1870.8,269.5 1871.4,275.4 1871.9,289.1 1872.4,304 1873,312.5 1873.5,311.7 1874.1,304.6 1874.6,297.1 1875.1,293 1875.7,292.2 1876.2,292 1876.8,290.8 1877.3,289.4 1877.8,290.2 1878.4,294.1 1878.9,298.9 1879.5,300.7 1880,297.4 1880.5,290.2 1881.1,283 1881.6,279.2 1882.2,279.3 1882.7,278.9 1883.2,276.7 1883.8,271.7 1884.3,264.9 1884.9,258.6 1885.4,254 1885.9,251.2 1886.5,250.4 1887,252.6 1887.6,259.3 1888.1,270.7 1888.6,284.4 1889.2,295.1 1889.7,299.2 1890.3,298.3 1890.8,295.2 1891.3,293.6 1891.9,294.7 1892.4,296.6 1893,295.8 1893.5,290.7 1894,282.7 1894.6,274 1895.1,268.5 1895.7,267.8 1896.2,269.6 1896.7,270.7 1897.3,269.9 1897.8,268.5 1898.4,269.2 1898.9,273.4 1899.4,279.8 1900,285.4 1900.5,290.5 1901.1,294.8 1901.6,298.7 1902.1,302.9 1902.7,306.4 1903.2,307.2 1903.8,303.6 1904.3,295.8 1904.8,285.6 1905.4,273.5 1905.9,264.8 1906.5,260.2 1907,258.9 1907.5,259.2 1908.1,260.5 1908.6,263.6 1909.2,270 1909.7,280.1 1910.2,290.4 1910.8,299.4 1911.3,304.8 1911.9,305.2 1912.4,301.4 1912.9,295.3 1913.5,288.3 1914,280.5 1914.6,269.3 1915.1,256.6 1915.6,246.3 1916.2,242.4 1916.7,247.1 1917.3,258.1 1917.8,269.6 1918.3,275.1 1918.9,272.6 1919.4,266.2 1920,263.9 1920.5,268.8 1921,284.1 1921.6,304.1 1922.1,319.5 1922.7,323.9 1923.2,317.4 1923.7,306 1924.3,296.6 1924.8,293.2 1925.4,294.9 1925.9,297.3 1926.4,296.2 1927,288.8 1927.5,278.2 1928.1,268.8 1928.6,263.7 1929.1,264.7 1929.7,271.6 1930.2,282 1930.8,291.1 1931.3,296.2 1931.8,295.4 1932.4,289.4 1932.9,281.5 1933.5,275.1 1934,269.9 1934.5,266.1 1935.1,260.5 1935.6,251.2 1936.2,239.7 1936.7,230.1 1937.2,226.5 1937.8,229.8 1938.3,237.6 1938.9,246.6 1939.4,255.7 1939.9,267.4 1940.5,281.2 1941,300.1 1941.6,322.2 1942.1,340.3 1942.6,347.8 1943.2,342.4 1943.7,328 1944.3,311.6 1944.8,299.6 1945.3,294.5 1945.9,294.6 1946.4,296.1 1947,295 1947.5,285.1 1948,272 1948.6,258.6 1949.1,248.4 1949.7,244.4 1950.2,247.7 1950.7,256.5 1951.3,267 1951.8,275.1 1952.4,278.3 1952.9,276.9 1953.4,273.1 1954,269.2 1954.5,266.5 1955.1,264.8 1955.6,263.3 1956.1,261.3 1956.7,258.4 1957.2,254.3 1957.8,249.2 1958.3,244.5 1958.8,243.9 1959.4,251.8 1959.9,270.5 1960.5,292.2 1961,314.6 1961.5,330.7 1962.1,336.7 1962.6,334.9 1963.2,331.2 1963.7,330.1 1964.2,330.6 1964.8,327.5 1965.3,315.9 1965.9,296.4 1966.4,275 1966.9,251.5 1967.5,237.4 1968,229.2 1968.6,220.1 1969.1,206.6 1969.6,192.9 1970.2,187.8 1970.7,198.6 1971.3,225 1971.8,259.1 1972.3,290.8 1972.9,307 1973.4,316.1 1974,323.6 1974.5,332.1 1975,339.1 1975.6,339.8 1976.1,331.1 1976.7,315.3 1977.2,297.9 1977.7,284.2 1978.3,274 1978.8,260.3 1979.4,247.3 1979.9,235.5 1980.4,226.9 1981,223.5 1981.5,224.5 1982.1,228 1982.6,233 1983.1,241.3 1983.7,255.7 1984.2,276.5 1984.8,295.2 1985.3,310.8 1985.8,318.1 1986.4,316.5 1986.9,310.1 1987.5,303.7 1988,299.8 1988.5,297.2 1989.1,293.9 1989.6,289.7 1990.2,286.3 1990.7,283.5 1991.2,283 1991.8,282.2 1992.3,278.9 1992.9,274.8 1993.4,273.1 1993.9,277.9 1994.5,288.8 1995,300.1 1995.6,305.5 1996.1,303.3 1996.6,297.5 1997.2,293.7 1997.7,293.4 1998.3,289.3 1998.8,276 1999.3,253.3 1999.9,227.8 2000.4,211.1 2001,210.6 2001.5,224.4 2002,242.1 2002.6,253.5 2003.1,256.4 2003.7,257.8 2004.2,267.2 2004.7,286.7 2005.3,306.3 2005.8,318.5 2006.4,316.4 2006.9,303.5 2007.4,290.9 2008,289.2 2008.5,299.9 2009.1,315.5 2009.6,325.2 2010.1,323.3 2010.7,312.2 2011.2,298.8 2011.8,288.9 2012.3,283.1 2012.8,277.1 2013.4,270.5 2013.9,264.5 2014.5,262.3 2015,265.6 2015.5,272.3 2016.1,277.9 2016.6,278.8 2017.2,275.1 2017.7,269.4 2018.2,264.1 2018.8,259.3 2019.3,253.8 2019.9,247.6 2020.4,243.4 2020.9,245 2021.5,253.8 2022,266.5 2022.6,277.3 2023.1,281.9 2023.6,281.6 2024.2,278.4 2024.7,282.2 2025.3,294.6 2025.8,311.3 2026.3,324.6 2026.9,329.1 2027.4,324.8 2028,315.6 2028.5,306.4 2029,299.2 2029.6,293 2030.1,286 2030.7,276.2 2031.2,264 2031.7,254.4 2032.3,248.2 2032.8,244.3 2033.4,241.9 2033.9,241.2 2034.4,243.5 2035,250.1 2035.5,260.1 2036.1,270.9 2036.6,279.8 2037.1,284.7 2037.7,287 2038.2,291.8 2038.8,299.8 2039.3,308.8 2039.8,315 2040.4,315.5 2040.9,310.7 2041.5,303.9 2042,298.5 2042.5,295.6 2043.1,293.4 2043.6,287.7 2044.2,275.3 2044.7,260.3 2045.2,246.5 2045.8,237.7 2046.3,235.2 2046.9,237.7 2047.4,242.2 2047.9,246.8 2048.5,251.7 2049,258.6 2049.6,268.6 2050.1,281.4 2050.6,292.9 2051.2,299.7 2051.7,302.6 2052.3,302.5 2052.8,301.4 2053.3,301.3 2053.9,302.9 2054.4,305.4 2055,307.5 2055.5,308 2056,306 2056.6,300.5 2057.1,289.9 2057.7,272.8 2058.2,255.2 2058.7,242.2 2059.3,238.5 2059.8,245.7 2060.4,260 2060.9,274.4 2061.4,282.5 2062,283.1 2062.5,280.1 2063.1,277.5 2063.6,282.9 2064.1,294.4 2064.7,305.8 2065.2,310.9 2065.8,307.7 2066.3,299.5 2066.8,291.8 2067.4,287.4 2067.9,282.8 2068.5,274.1 2069,261.1 2069.5,246 2070.1,234 2070.6,229.8 2071.2,234.4 2071.7,244.7 2072.2,256.8 2072.8,267.9 2073.3,278 2073.9,287.4 2074.4,294 2074.9,300 2075.5,304.3 2076,306.5 2076.6,307.4 2077.1,307.4 2077.6,305.4 2078.2,299.5 2078.7,289.4 2079.3,278 2079.8,270.4 2080.3,269.2 2080.9,276.5 2081.4,287.3 2082,295.2 2082.5,296.6 2083,292 2083.6,286.7 2084.1,286.3 2084.7,290.9 2085.2,296.3 2085.7,298 2086.3,294.7 2086.8,289.1 2087.4,285.4 2087.9,285.4 2088.4,282.1 2089,274.9 2089.5,261.1 2090.1,241.6 2090.6,221.2 2091.1,205.6 2091.7,199.3 2092.2,203.8 2092.8,218.1 2093.3,239.3 2093.8,263.7 2094.4,286.9 2094.9,302.2 2095.5,308.7 2096,310.9 2096.5,312.2 2097.1,315.5 2097.6,320.8 2098.2,325.1 2098.7,324.3 2099.2,316.8 2099.8,304.4 2100.3,291.7 2100.9,283.1 2101.4,280.1 2101.9,279.8 2102.5,280.5 2103,281.3 2103.6,282.2 2104.1,284.4 2104.6,287.3 2105.2,291.3 2105.7,295.3 2106.3,297.2 2106.8,295.4 2107.3,289.6 2107.9,280.8 2108.4,268.4 2109,255.1 2109.5,244.1 2110,235.3 2110.6,227.1 2111.1,217.5 2111.7,207.1 2112.2,199.3 2112.7,199.6 2113.3,211.5 2113.8,233.9 2114.4,261 2114.9,286.1 2115.4,298.7 2116,306.1 2116.5,315.5 2117.1,329.8 2117.6,347 2118.1,360.4 2118.7,364.1 2119.2,357 2119.8,343.3 2120.3,328.6 2120.8,315.5 2121.4,302.1 2121.9,282.5 2122.5,252.6 2123,223.7 2123.5,203.4 2124.1,196.7 2124.6,202.7 2125.2,215.5 2125.7,229 2126.2,240.3 2126.8,250.8 2127.3,262.7 2127.9,276.2 2128.4,286.6 2128.9,290.5 2129.5,290.6 2130,290.1 2130.6,292.1 2131.1,297.4 2131.6,302.6 2132.2,302.8 2132.7,295.5 2133.3,280.4 2133.8,265.5 2134.3,256.9 2134.9,257.2 2135.4,264.9 2136,276.3 2136.5,287.5 2137,294.9 2137.6,296.7 2138.1,295.4 2138.7,293.4 2139.2,293.3 2139.7,296.7 2140.3,302.7 2140.8,307.6 2141.4,307.2 2141.9,299.8 2142.4,288 2143,277.3 2143.5,270.2 2144.1,269.3 2144.6,269.9 2145.1,267 2145.7,259.6 2146.2,252.8 2146.8,253.1 2147.3,263 2147.8,277.7 2148.4,288.6 2148.9,289.6 2149.5,281.9 2150,275.6 2150.5,278.7 2151.1,291.4 2151.6,305.3 2152.2,309.3 2152.7,298.3 2153.2,276.6 2153.8,257.1 2154.3,250.8 2154.9,259.4 2155.4,275.7 2155.9,289.3 2156.5,293.9 2157,290.3 2157.6,284.3 2158.1,280.2 2158.6,280.3 2159.2,282.9 2159.7,285.8 2160.3,288.1 2160.8,290.8 2161.3,293.8 2161.9,295.7 2162.4,294 2163,288.2 2163.5,280.4 2164,274.4 2164.6,273.6 2165.1,277.8 2165.7,284.1 2166.2,289.6 2166.7,292.7 2167.3,294 2167.8,295.1 2168.4,296.5 2168.9,297.3 2169.4,295.6 2170,290 2170.5,280.6 2171.1,268 2171.6,257.1 2172.1,251.5 2172.7,253.4 2173.2,261.8 2173.8,272.7 2174.3,280.9 2174.8,282.6 2175.4,278.2 2175.9,272.3 2176.5,270.4 2177,274.2 2177.5,281.2 2178.1,287.3 2178.6,288.6 2179.2,286.2 2179.7,285.5 2180.2,291.2 2180.8,302.3 2181.3,311.4 2181.9,308.1 2182.4,289.3 2182.9,262.6 2183.5,240.8 2184,235.1 2184.6,247.7 2185.1,270.8 2185.6,292.5 2186.2,303.4 2186.7,302.3 2187.3,298 2187.8,297.8 2188.3,304.1 2188.9,313.6 2189.4,320.6 2190,321.3 2190.5,315.3 2191,304.9 2191.6,292.4 2192.1,278.9 2192.7,260.6 2193.2,244.1 2193.7,231 2194.3,222 2194.8,216.2 2195.4,212.5 2195.9,211.2 2196.4,214.3 2197,224.5 2197.5,242.1 2198.1,264.3 2198.6,285.8 2199.1,299.1 2199.7,304.3 2200.2,306.2 2200.8,308 2201.3,310.7 2201.8,313.3 2202.4,314.5 2202.9,314.5 2203.5,314.8 2204,316.3 2204.5,317.4 2205.1,314.5 2205.6,305.4 2206.2,291.5 2206.7,278.2 2207.2,270.8 2207.8,270.3 2208.3,274 2208.9,276.4 2209.4,274 2209.9,268.5 2210.5,264.3 2211,264.1 2211.6,265.5 2212.1,262.9 2212.6,252.6 2213.2,236.6 2213.7,222.5 2214.3,218 2214.8,225.5 2215.3,239.6 2215.9,252.3 2216.4,258.7 2217,261.4 2217.5,268.2 2218,280 2218.6,302.1 2219.1,327.2 2219.7,345.2 2220.2,349.8 2220.7,342.1 2221.3,328.8 2221.8,317 2222.4,309.8 2222.9,305.6 2223.4,300.9 2224,293.4 2224.5,280.8 2225.1,264.2 2225.6,249.5 2226.1,237.4 2226.7,227.8 2227.2,221.7 2227.8,221.1 2228.3,227.6 2228.8,241.2 2229.4,259.4 2229.9,278.3 2230.5,292.7 2231,301.3 2231.5,307 2232.1,310 2232.6,309.5 2233.2,304.5 2233.7,295.5 2234.2,285.1 2234.8,276.8 2235.3,269.4 2235.9,264.3 2236.4,259.5 2236.9,252.1 2237.5,242.1 2238,233.5 2238.6,231.8 2239.1,239.9 2239.6,256.3 2240.2,275.6 2240.7,290.1 2241.3,297.4 2241.8,303.6 2242.3,312.5 2242.9,324.8 2243.4,336.9 2244,342.9 2244.5,339.5 2245,327.7 2245.6,312.7 2246.1,299.2 2246.7,288.8 2247.2,278.5 2247.7,261.7 2248.3,244.2 2248.8,229.7 2249.4,221.6 2249.9,220.7 2250.4,223.9 2251,227.3 2251.5,229.8 2252.1,234 2252.6,243.4 2253.1,258.5 2253.7,274.9 2254.2,286.8 2254.8,288.3 2255.3,286.1 2255.8,287.5 2256.4,296.4 2256.9,309.5 2257.5,318.2 2258,315.8 2258.5,303.4 2259.1,290.3 2259.6,286.6 2260.2,294.8 2260.7,307.2 2261.2,311.4 2261.8,300.7 2262.3,280.1 2262.9,262.7 2263.4,259.7 2263.9,271.6 2264.5,288.8 2265,297.9 2265.6,292.7 2266.1,278.4 2266.6,266 2267.2,263.8 2267.7,270.9 2268.3,279.5 2268.8,282 2269.3,277 2269.9,269.7 2270.4,266 2271,267.5 2271.5,271 2272,272.4 2272.6,271.6 2273.1,272.5 2273.7,279.1 2274.2,289.9 2274.7,299.6 2275.3,302.5 2275.8,297.3 2276.4,289.1 2276.9,284.9 2277.4,287.6 2278,293.7 2278.5,296.6 2279.1,292.2 2279.6,282.9 2280.1,275.6 2280.7,276.1 2281.2,283.5 2281.8,290.3 2282.3,290.8 2282.8,282.5 2283.4,269 2283.9,257 2284.5,251.1 2285,251.8 2285.5,255.9 2286.1,260.7 2286.6,265.1 2287.2,270.4 2287.7,277.6 2288.2,284.9 2288.8,293.4 2289.3,303.1 2289.9,313.2 2290.4,321.7 2290.9,325.4 2291.5,321.3 2292,309.6 2292.6,294.6 2293.1,283.2 2293.6,280 2294.2,284.3 2294.7,289.5 2295.3,284.8 2295.8,271.4 2296.3,253.3 2296.9,237.8 2297.4,230.4 2298,231.4 2298.5,236.4 2299,240.5 2299.6,242.2 2300.1,243.9 2300.7,249.2 2301.2,260.1 2301.7,275.7 2302.3,289.1 2302.8,301.8 2303.4,312.2 2303.9,318.9 2304.4,320.1 2305,314.9 2305.5,304.5 2306.1,293.2 2306.6,286.7 2307.1,287.8 2307.7,294.5 2308.2,300.6 2308.8,300.2 2309.3,291.2 2309.8,277.6 2310.4,267.4 2310.9,265.2 2311.5,270.8 2312,279.4 2312.5,285.9 2313.1,288 2313.6,286.5 2314.2,284.2 2314.7,283.5 2315.2,284.4 2315.8,284.4 2316.3,281.9 2316.9,276.2 2317.4,268.1 2317.9,259.9 2318.5,254.4 2319,254 2319.6,259.2 2320.1,267.4 2320.6,274.1 2321.2,275.5 2321.7,271.6 2322.3,267.3 2322.8,269.1 2323.3,279 2323.9,293.9 2324.4,306 2325,307.8 2325.5,298.6 2326,286 2326.6,280.4 2327.1,286.9 2327.7,301.4 2328.2,313 2328.7,312.8 2329.3,300.2 2329.8,283.7 2330.4,273.5 2330.9,273.8 2331.4,280 2332,284.7 2332.5,282.9 2333.1,276.9 2333.6,273.8 2334.1,278.6 2334.7,288.9 2335.2,296.9 2335.8,295.9 2336.3,285.8 2336.8,273.4 2337.4,266.8 2337.9,269.7 2338.5,277.6 2339,282.4 2339.5,278.6 2340.1,267.6 2340.6,255.8 2341.2,249 2341.7,248.9 2342.2,252.4 2342.8,256.2 2343.3,260 2343.9,266.7 2344.4,279.1 2344.9,295 2345.5,308.4 2346,315.2 2346.6,312.9 2347.1,304.3 2347.6,295.8 2348.2,292.5 2348.7,295.6 2349.3,302 2349.8,307.1 2350.3,308.3 2350.9,305.7 2351.4,300.5 2352,293.4 2352.5,281.1 2353,266.4 2353.6,250.1 2354.1,235.4 2354.7,226.5 2355.2,226.9 2355.7,236.8 2356.3,252.6 2356.8,268.8 2357.4,280 2357.9,284.4 2358.4,283.4 2359,279.6 2359.5,281.2 2360.1,290.5 2360.6,304.7 2361.1,318 2361.7,323.9 2362.2,319.3 2362.8,305.6 2363.3,288.1 2363.8,272.8 2364.4,261.2 2364.9,254.9 2365.5,252.9 2366,252.3 2366.5,251.3 2367.1,250.2 2367.6,251.3 2368.2,256.7 2368.7,267.1 2369.2,280.8 2369.8,293.2 2370.3,299 2370.9,300.1 2371.4,298.6 2371.9,298.2 2372.5,302.4 2373,311.1 2373.6,320.3 2374.1,324.2 2374.6,318.4 2375.2,303.7 2375.7,284.1 2376.3,262 2376.8,245.9 2377.3,235.5 2377.9,227.7 2378.4,220.4 2379,215.1 2379.5,215.6 2380,225.2 2380.6,243.4 2381.1,266.2 2381.7,288.4 2382.2,302.4 2382.7,311.6 2383.3,318.8 2383.8,323.9 2384.4,325.1 2384.9,320.7 2385.4,311.7 2386,302.1 2386.5,296.3 2387.1,295.1 2387.6,294.8 2388.1,287.8 2388.7,271.3 2389.2,252.3 2389.8,238.2 2390.3,234.3 2390.8,239.8 2391.4,247.9 2391.9,251.2 2392.5,248.2 2393,244.6"/>
<defs><radialGradient id="gMo" cx="0.5" cy="0.5" r="0.5" fx="0.5" fy="0.48"><stop offset="0" stop-color="#ffffff"/><stop offset="0.18" stop-color="#ffffff"/><stop offset="0.42" stop-color="#c7b0bf"/><stop offset="0.7" stop-color="#a3899b"/><stop offset="1" stop-color="#846a7a"/></radialGradient><radialGradient id="gSi" cx="0.5" cy="0.5" r="0.5" fx="0.5" fy="0.48"><stop offset="0" stop-color="#f4faff"/><stop offset="0.12" stop-color="#dfeaff"/><stop offset="0.35" stop-color="#4d6cf2"/><stop offset="0.7" stop-color="#2c48dc"/><stop offset="1" stop-color="#1a2c9a"/></radialGradient><radialGradient id="gP" cx="0.5" cy="0.5" r="0.5" fx="0.5" fy="0.48"><stop offset="0" stop-color="#ffe8fd"/><stop offset="0.1" stop-color="#ffc8fa"/><stop offset="0.35" stop-color="#ee3fe6"/><stop offset="0.7" stop-color="#d41fcc"/><stop offset="1" stop-color="#a01098"/></radialGradient></defs>
<g>
<line x1="1699.4" y1="476.5" x2="1699.4" y2="441" stroke="#2b47e0" stroke-width="7.8"/><line x1="1699.4" y1="441" x2="1699.4" y2="405.5" stroke="#d423cb" stroke-width="7.8"/>
<line x1="1699.4" y1="476.5" x2="1729.5" y2="493.7" stroke="#2b47e0" stroke-width="7.8"/><line x1="1729.5" y1="493.7" x2="1759.7" y2="510.9" stroke="#d423cb" stroke-width="7.8"/>
<line x1="1819.3" y1="476.5" x2="1819.3" y2="441" stroke="#2b47e0" stroke-width="7.8"/><line x1="1819.3" y1="441" x2="1819.3" y2="405.5" stroke="#d423cb" stroke-width="7.8"/>
<line x1="1819.3" y1="476.5" x2="1849.5" y2="493.7" stroke="#2b47e0" stroke-width="7.8"/><line x1="1849.5" y1="493.7" x2="1879.7" y2="510.9" stroke="#d423cb" stroke-width="7.8"/>
<line x1="1819.3" y1="476.5" x2="1789.5" y2="493.7" stroke="#2b47e0" stroke-width="7.8"/><line x1="1789.5" y1="493.7" x2="1759.7" y2="510.9" stroke="#d423cb" stroke-width="7.8"/>
<line x1="1939.3" y1="476.5" x2="1939.3" y2="441" stroke="#2b47e0" stroke-width="7.8"/><line x1="1939.3" y1="441" x2="1939.3" y2="405.5" stroke="#d423cb" stroke-width="7.8"/>
<line x1="1939.3" y1="476.5" x2="1969.5" y2="493.7" stroke="#2b47e0" stroke-width="7.8"/><line x1="1969.5" y1="493.7" x2="1999.6" y2="510.9" stroke="#d423cb" stroke-width="7.8"/>
<line x1="1939.3" y1="476.5" x2="1909.5" y2="493.7" stroke="#2b47e0" stroke-width="7.8"/><line x1="1909.5" y1="493.7" x2="1879.7" y2="510.9" stroke="#d423cb" stroke-width="7.8"/>
<line x1="2059.3" y1="476.5" x2="2059.3" y2="441" stroke="#2b47e0" stroke-width="7.8"/><line x1="2059.3" y1="441" x2="2059.3" y2="405.5" stroke="#d423cb" stroke-width="7.8"/>
<line x1="2059.3" y1="476.5" x2="2089.4" y2="493.7" stroke="#2b47e0" stroke-width="7.8"/><line x1="2089.4" y1="493.7" x2="2119.6" y2="510.9" stroke="#d423cb" stroke-width="7.8"/>
<line x1="2059.3" y1="476.5" x2="2029.4" y2="493.7" stroke="#2b47e0" stroke-width="7.8"/><line x1="2029.4" y1="493.7" x2="1999.6" y2="510.9" stroke="#d423cb" stroke-width="7.8"/>
<line x1="1759.7" y1="582.2" x2="1759.7" y2="546.6" stroke="#2b47e0" stroke-width="7.8"/><line x1="1759.7" y1="546.6" x2="1759.7" y2="510.9" stroke="#d423cb" stroke-width="7.8"/>
<line x1="1759.7" y1="582.2" x2="1789.9" y2="599.3" stroke="#2b47e0" stroke-width="7.8"/><line x1="1789.9" y1="599.3" x2="1820" y2="616.3" stroke="#d423cb" stroke-width="7.8"/>
<line x1="1879.7" y1="582.2" x2="1879.7" y2="546.6" stroke="#2b47e0" stroke-width="7.8"/><line x1="1879.7" y1="546.6" x2="1879.7" y2="510.9" stroke="#d423cb" stroke-width="7.8"/>
<line x1="1879.7" y1="582.2" x2="1909.8" y2="599.3" stroke="#2b47e0" stroke-width="7.8"/><line x1="1909.8" y1="599.3" x2="1940" y2="616.3" stroke="#d423cb" stroke-width="7.8"/>
<line x1="1879.7" y1="582.2" x2="1849.9" y2="599.3" stroke="#2b47e0" stroke-width="7.8"/><line x1="1849.9" y1="599.3" x2="1820" y2="616.3" stroke="#d423cb" stroke-width="7.8"/>
<line x1="1999.6" y1="582.2" x2="1999.6" y2="546.6" stroke="#2b47e0" stroke-width="7.8"/><line x1="1999.6" y1="546.6" x2="1999.6" y2="510.9" stroke="#d423cb" stroke-width="7.8"/>
<line x1="1999.6" y1="582.2" x2="2029.8" y2="599.3" stroke="#2b47e0" stroke-width="7.8"/><line x1="2029.8" y1="599.3" x2="2060" y2="616.3" stroke="#d423cb" stroke-width="7.8"/>
<line x1="1999.6" y1="582.2" x2="1969.8" y2="599.3" stroke="#2b47e0" stroke-width="7.8"/><line x1="1969.8" y1="599.3" x2="1940" y2="616.3" stroke="#d423cb" stroke-width="7.8"/>
<line x1="2119.6" y1="582.2" x2="2119.6" y2="546.6" stroke="#2b47e0" stroke-width="7.8"/><line x1="2119.6" y1="546.6" x2="2119.6" y2="510.9" stroke="#d423cb" stroke-width="7.8"/>
<line x1="2119.6" y1="582.2" x2="2149.8" y2="599.3" stroke="#2b47e0" stroke-width="7.8"/><line x1="2149.8" y1="599.3" x2="2179.9" y2="616.3" stroke="#d423cb" stroke-width="7.8"/>
<line x1="2119.6" y1="582.2" x2="2089.8" y2="599.3" stroke="#2b47e0" stroke-width="7.8"/><line x1="2089.8" y1="599.3" x2="2060" y2="616.3" stroke="#d423cb" stroke-width="7.8"/>
<line x1="1820" y1="688" x2="1820" y2="652.2" stroke="#2b47e0" stroke-width="7.8"/><line x1="1820" y1="652.2" x2="1820" y2="616.3" stroke="#d423cb" stroke-width="7.8"/>
<line x1="1820" y1="688" x2="1850.2" y2="704.9" stroke="#2b47e0" stroke-width="7.8"/><line x1="1850.2" y1="704.9" x2="1880.4" y2="721.7" stroke="#d423cb" stroke-width="7.8"/>
<line x1="1940" y1="688" x2="1940" y2="652.2" stroke="#2b47e0" stroke-width="7.8"/><line x1="1940" y1="652.2" x2="1940" y2="616.3" stroke="#d423cb" stroke-width="7.8"/>
<line x1="1940" y1="688" x2="1970.2" y2="704.9" stroke="#2b47e0" stroke-width="7.8"/><line x1="1970.2" y1="704.9" x2="2000.3" y2="721.7" stroke="#d423cb" stroke-width="7.8"/>
<line x1="1940" y1="688" x2="1910.2" y2="704.9" stroke="#2b47e0" stroke-width="7.8"/><line x1="1910.2" y1="704.9" x2="1880.4" y2="721.7" stroke="#d423cb" stroke-width="7.8"/>
<line x1="2060" y1="688" x2="2060" y2="652.2" stroke="#2b47e0" stroke-width="7.8"/><line x1="2060" y1="652.2" x2="2060" y2="616.3" stroke="#d423cb" stroke-width="7.8"/>
<line x1="2060" y1="688" x2="2090.1" y2="704.9" stroke="#2b47e0" stroke-width="7.8"/><line x1="2090.1" y1="704.9" x2="2120.3" y2="721.7" stroke="#d423cb" stroke-width="7.8"/>
<line x1="2060" y1="688" x2="2030.2" y2="704.9" stroke="#2b47e0" stroke-width="7.8"/><line x1="2030.2" y1="704.9" x2="2000.3" y2="721.7" stroke="#d423cb" stroke-width="7.8"/>
<line x1="2179.9" y1="688" x2="2179.9" y2="652.2" stroke="#2b47e0" stroke-width="7.8"/><line x1="2179.9" y1="652.2" x2="2179.9" y2="616.3" stroke="#d423cb" stroke-width="7.8"/>
<line x1="2179.9" y1="688" x2="2210.1" y2="704.9" stroke="#2b47e0" stroke-width="7.8"/><line x1="2210.1" y1="704.9" x2="2240.3" y2="721.7" stroke="#d423cb" stroke-width="7.8"/>
<line x1="2179.9" y1="688" x2="2150.1" y2="704.9" stroke="#2b47e0" stroke-width="7.8"/><line x1="2150.1" y1="704.9" x2="2120.3" y2="721.7" stroke="#d423cb" stroke-width="7.8"/>
<line x1="1880.4" y1="793.8" x2="1880.4" y2="757.7" stroke="#2b47e0" stroke-width="7.8"/><line x1="1880.4" y1="757.7" x2="1880.4" y2="721.7" stroke="#d423cb" stroke-width="7.8"/>
<line x1="2000.3" y1="793.8" x2="2000.3" y2="757.7" stroke="#2b47e0" stroke-width="7.8"/><line x1="2000.3" y1="757.7" x2="2000.3" y2="721.7" stroke="#d423cb" stroke-width="7.8"/>
<line x1="2120.3" y1="793.8" x2="2120.3" y2="757.7" stroke="#2b47e0" stroke-width="7.8"/><line x1="2120.3" y1="757.7" x2="2120.3" y2="721.7" stroke="#d423cb" stroke-width="7.8"/>
<line x1="2240.3" y1="793.8" x2="2240.3" y2="757.7" stroke="#2b47e0" stroke-width="7.8"/><line x1="2240.3" y1="757.7" x2="2240.3" y2="721.7" stroke="#d423cb" stroke-width="7.8"/>
<line x1="1640.8" y1="442.8" x2="1670.1" y2="459.6" stroke="#a3899a" stroke-width="7.8"/><line x1="1670.1" y1="459.6" x2="1699.4" y2="476.5" stroke="#d423cb" stroke-width="7.8"/>
<line x1="1760.8" y1="442.8" x2="1790.1" y2="459.6" stroke="#a3899a" stroke-width="7.8"/><line x1="1790.1" y1="459.6" x2="1819.3" y2="476.5" stroke="#d423cb" stroke-width="7.8"/>
<line x1="1760.8" y1="442.8" x2="1730.1" y2="459.6" stroke="#a3899a" stroke-width="7.8"/><line x1="1730.1" y1="459.6" x2="1699.4" y2="476.5" stroke="#d423cb" stroke-width="7.8"/>
<line x1="1880.7" y1="442.8" x2="1910" y2="459.6" stroke="#a3899a" stroke-width="7.8"/><line x1="1910" y1="459.6" x2="1939.3" y2="476.5" stroke="#d423cb" stroke-width="7.8"/>
<line x1="1880.7" y1="442.8" x2="1850" y2="459.6" stroke="#a3899a" stroke-width="7.8"/><line x1="1850" y1="459.6" x2="1819.3" y2="476.5" stroke="#d423cb" stroke-width="7.8"/>
<line x1="2000.7" y1="442.8" x2="2030" y2="459.6" stroke="#a3899a" stroke-width="7.8"/><line x1="2030" y1="459.6" x2="2059.3" y2="476.5" stroke="#d423cb" stroke-width="7.8"/>
<line x1="2000.7" y1="442.8" x2="1970" y2="459.6" stroke="#a3899a" stroke-width="7.8"/><line x1="1970" y1="459.6" x2="1939.3" y2="476.5" stroke="#d423cb" stroke-width="7.8"/>
<line x1="1701.1" y1="547.5" x2="1700.3" y2="512" stroke="#a3899a" stroke-width="7.8"/><line x1="1700.3" y1="512" x2="1699.4" y2="476.5" stroke="#d423cb" stroke-width="7.8"/>
<line x1="1701.1" y1="547.5" x2="1730.4" y2="564.8" stroke="#a3899a" stroke-width="7.8"/><line x1="1730.4" y1="564.8" x2="1759.7" y2="582.2" stroke="#d423cb" stroke-width="7.8"/>
<line x1="1821.1" y1="547.5" x2="1820.2" y2="512" stroke="#a3899a" stroke-width="7.8"/><line x1="1820.2" y1="512" x2="1819.3" y2="476.5" stroke="#d423cb" stroke-width="7.8"/>
<line x1="1821.1" y1="547.5" x2="1850.4" y2="564.8" stroke="#a3899a" stroke-width="7.8"/><line x1="1850.4" y1="564.8" x2="1879.7" y2="582.2" stroke="#d423cb" stroke-width="7.8"/>
<line x1="1821.1" y1="547.5" x2="1790.4" y2="564.8" stroke="#a3899a" stroke-width="7.8"/><line x1="1790.4" y1="564.8" x2="1759.7" y2="582.2" stroke="#d423cb" stroke-width="7.8"/>
<line x1="1941.1" y1="547.5" x2="1940.2" y2="512" stroke="#a3899a" stroke-width="7.8"/><line x1="1940.2" y1="512" x2="1939.3" y2="476.5" stroke="#d423cb" stroke-width="7.8"/>
<line x1="1941.1" y1="547.5" x2="1970.4" y2="564.8" stroke="#a3899a" stroke-width="7.8"/><line x1="1970.4" y1="564.8" x2="1999.6" y2="582.2" stroke="#d423cb" stroke-width="7.8"/>
<line x1="1941.1" y1="547.5" x2="1910.4" y2="564.8" stroke="#a3899a" stroke-width="7.8"/><line x1="1910.4" y1="564.8" x2="1879.7" y2="582.2" stroke="#d423cb" stroke-width="7.8"/>
<line x1="2061" y1="547.5" x2="2060.1" y2="512" stroke="#a3899a" stroke-width="7.8"/><line x1="2060.1" y1="512" x2="2059.3" y2="476.5" stroke="#d423cb" stroke-width="7.8"/>
<line x1="2061" y1="547.5" x2="2090.3" y2="564.8" stroke="#a3899a" stroke-width="7.8"/><line x1="2090.3" y1="564.8" x2="2119.6" y2="582.2" stroke="#d423cb" stroke-width="7.8"/>
<line x1="2061" y1="547.5" x2="2030.3" y2="564.8" stroke="#a3899a" stroke-width="7.8"/><line x1="2030.3" y1="564.8" x2="1999.6" y2="582.2" stroke="#d423cb" stroke-width="7.8"/>
<line x1="1761.5" y1="652.2" x2="1760.6" y2="617.2" stroke="#a3899a" stroke-width="7.8"/><line x1="1760.6" y1="617.2" x2="1759.7" y2="582.2" stroke="#d423cb" stroke-width="7.8"/>
<line x1="1761.5" y1="652.2" x2="1790.8" y2="670.1" stroke="#a3899a" stroke-width="7.8"/><line x1="1790.8" y1="670.1" x2="1820" y2="688" stroke="#d423cb" stroke-width="7.8"/>
<line x1="1881.4" y1="652.2" x2="1880.6" y2="617.2" stroke="#a3899a" stroke-width="7.8"/><line x1="1880.6" y1="617.2" x2="1879.7" y2="582.2" stroke="#d423cb" stroke-width="7.8"/>
<line x1="1881.4" y1="652.2" x2="1910.7" y2="670.1" stroke="#a3899a" stroke-width="7.8"/><line x1="1910.7" y1="670.1" x2="1940" y2="688" stroke="#d423cb" stroke-width="7.8"/>
<line x1="1881.4" y1="652.2" x2="1850.7" y2="670.1" stroke="#a3899a" stroke-width="7.8"/><line x1="1850.7" y1="670.1" x2="1820" y2="688" stroke="#d423cb" stroke-width="7.8"/>
<line x1="2001.4" y1="652.2" x2="2000.5" y2="617.2" stroke="#a3899a" stroke-width="7.8"/><line x1="2000.5" y1="617.2" x2="1999.6" y2="582.2" stroke="#d423cb" stroke-width="7.8"/>
<line x1="2001.4" y1="652.2" x2="2030.7" y2="670.1" stroke="#a3899a" stroke-width="7.8"/><line x1="2030.7" y1="670.1" x2="2060" y2="688" stroke="#d423cb" stroke-width="7.8"/>
<line x1="2001.4" y1="652.2" x2="1970.7" y2="670.1" stroke="#a3899a" stroke-width="7.8"/><line x1="1970.7" y1="670.1" x2="1940" y2="688" stroke="#d423cb" stroke-width="7.8"/>
<line x1="2121.4" y1="652.2" x2="2120.5" y2="617.2" stroke="#a3899a" stroke-width="7.8"/><line x1="2120.5" y1="617.2" x2="2119.6" y2="582.2" stroke="#d423cb" stroke-width="7.8"/>
<line x1="2121.4" y1="652.2" x2="2150.6" y2="670.1" stroke="#a3899a" stroke-width="7.8"/><line x1="2150.6" y1="670.1" x2="2179.9" y2="688" stroke="#d423cb" stroke-width="7.8"/>
<line x1="2121.4" y1="652.2" x2="2090.7" y2="670.1" stroke="#a3899a" stroke-width="7.8"/><line x1="2090.7" y1="670.1" x2="2060" y2="688" stroke="#d423cb" stroke-width="7.8"/>
<line x1="1821.8" y1="756.9" x2="1820.9" y2="722.4" stroke="#a3899a" stroke-width="7.8"/><line x1="1820.9" y1="722.4" x2="1820" y2="688" stroke="#d423cb" stroke-width="7.8"/>
<line x1="1821.8" y1="756.9" x2="1851.1" y2="775.3" stroke="#a3899a" stroke-width="7.8"/><line x1="1851.1" y1="775.3" x2="1880.4" y2="793.8" stroke="#d423cb" stroke-width="7.8"/>
<line x1="1941.8" y1="756.9" x2="1940.9" y2="722.4" stroke="#a3899a" stroke-width="7.8"/><line x1="1940.9" y1="722.4" x2="1940" y2="688" stroke="#d423cb" stroke-width="7.8"/>
<line x1="1941.8" y1="756.9" x2="1971.1" y2="775.3" stroke="#a3899a" stroke-width="7.8"/><line x1="1971.1" y1="775.3" x2="2000.3" y2="793.8" stroke="#d423cb" stroke-width="7.8"/>
<line x1="1941.8" y1="756.9" x2="1911.1" y2="775.3" stroke="#a3899a" stroke-width="7.8"/><line x1="1911.1" y1="775.3" x2="1880.4" y2="793.8" stroke="#d423cb" stroke-width="7.8"/>
<line x1="2061.7" y1="756.9" x2="2060.9" y2="722.4" stroke="#a3899a" stroke-width="7.8"/><line x1="2060.9" y1="722.4" x2="2060" y2="688" stroke="#d423cb" stroke-width="7.8"/>
<line x1="2061.7" y1="756.9" x2="2091" y2="775.3" stroke="#a3899a" stroke-width="7.8"/><line x1="2091" y1="775.3" x2="2120.3" y2="793.8" stroke="#d423cb" stroke-width="7.8"/>
<line x1="2061.7" y1="756.9" x2="2031" y2="775.3" stroke="#a3899a" stroke-width="7.8"/><line x1="2031" y1="775.3" x2="2000.3" y2="793.8" stroke="#d423cb" stroke-width="7.8"/>
<line x1="2181.7" y1="756.9" x2="2180.8" y2="722.4" stroke="#a3899a" stroke-width="7.8"/><line x1="2180.8" y1="722.4" x2="2179.9" y2="688" stroke="#d423cb" stroke-width="7.8"/>
<line x1="2181.7" y1="756.9" x2="2211" y2="775.3" stroke="#a3899a" stroke-width="7.8"/><line x1="2211" y1="775.3" x2="2240.3" y2="793.8" stroke="#d423cb" stroke-width="7.8"/>
<line x1="2181.7" y1="756.9" x2="2151" y2="775.3" stroke="#a3899a" stroke-width="7.8"/><line x1="2151" y1="775.3" x2="2120.3" y2="793.8" stroke="#d423cb" stroke-width="7.8"/>
<circle cx="1640.8" cy="442.8" r="18" fill="url(#gMo)"/>
<circle cx="1760.8" cy="442.8" r="18" fill="url(#gMo)"/>
<circle cx="1880.7" cy="442.8" r="18" fill="url(#gMo)"/>
<circle cx="2000.7" cy="442.8" r="18" fill="url(#gMo)"/>
<circle cx="1701.1" cy="547.5" r="18" fill="url(#gMo)"/>
<circle cx="1821.1" cy="547.5" r="18" fill="url(#gMo)"/>
<circle cx="1941.1" cy="547.5" r="18" fill="url(#gMo)"/>
<circle cx="2061" cy="547.5" r="18" fill="url(#gMo)"/>
<circle cx="1761.5" cy="652.2" r="18" fill="url(#gMo)"/>
<circle cx="1881.4" cy="652.2" r="18" fill="url(#gMo)"/>
<circle cx="2001.4" cy="652.2" r="18" fill="url(#gMo)"/>
<circle cx="2121.4" cy="652.2" r="18" fill="url(#gMo)"/>
<circle cx="1821.8" cy="756.9" r="18" fill="url(#gMo)"/>
<circle cx="1941.8" cy="756.9" r="18" fill="url(#gMo)"/>
<circle cx="2061.7" cy="756.9" r="18" fill="url(#gMo)"/>
<circle cx="2181.7" cy="756.9" r="18" fill="url(#gMo)"/>
<circle cx="1702.4" cy="407.5" r="15" fill="url(#gP)"/>
<circle cx="1822.3" cy="407.5" r="15" fill="url(#gP)"/>
<circle cx="1942.3" cy="407.5" r="15" fill="url(#gP)"/>
<circle cx="2062.3" cy="407.5" r="15" fill="url(#gP)"/>
<circle cx="1762.7" cy="512.9" r="15" fill="url(#gP)"/>
<circle cx="1882.7" cy="512.9" r="15" fill="url(#gP)"/>
<circle cx="2002.6" cy="512.9" r="15" fill="url(#gP)"/>
<circle cx="2122.6" cy="512.9" r="15" fill="url(#gP)"/>
<circle cx="1823" cy="618.3" r="15" fill="url(#gP)"/>
<circle cx="1943" cy="618.3" r="15" fill="url(#gP)"/>
<circle cx="2063" cy="618.3" r="15" fill="url(#gP)"/>
<circle cx="2182.9" cy="618.3" r="15" fill="url(#gP)"/>
<circle cx="1883.4" cy="723.7" r="15" fill="url(#gP)"/>
<circle cx="2003.3" cy="723.7" r="15" fill="url(#gP)"/>
<circle cx="2123.3" cy="723.7" r="15" fill="url(#gP)"/>
<circle cx="2243.3" cy="723.7" r="15" fill="url(#gP)"/>
<circle cx="1699.4" cy="476.5" r="16" fill="url(#gSi)"/>
<circle cx="1819.3" cy="476.5" r="16" fill="url(#gSi)"/>
<circle cx="1939.3" cy="476.5" r="16" fill="url(#gSi)"/>
<circle cx="2059.3" cy="476.5" r="16" fill="url(#gSi)"/>
<circle cx="1759.7" cy="582.2" r="16" fill="url(#gSi)"/>
<circle cx="1879.7" cy="582.2" r="16" fill="url(#gSi)"/>
<circle cx="1999.6" cy="582.2" r="16" fill="url(#gSi)"/>
<circle cx="2119.6" cy="582.2" r="16" fill="url(#gSi)"/>
<circle cx="1820" cy="688" r="16" fill="url(#gSi)"/>
<circle cx="1940" cy="688" r="16" fill="url(#gSi)"/>
<circle cx="2060" cy="688" r="16" fill="url(#gSi)"/>
<circle cx="2179.9" cy="688" r="16" fill="url(#gSi)"/>
<circle cx="1880.4" cy="793.8" r="16" fill="url(#gSi)"/>
<circle cx="2000.3" cy="793.8" r="16" fill="url(#gSi)"/>
<circle cx="2120.3" cy="793.8" r="16" fill="url(#gSi)"/>
<circle cx="2240.3" cy="793.8" r="16" fill="url(#gSi)"/>
<circle cx="1699.4" cy="405.5" r="15" fill="url(#gP)"/>
<circle cx="1819.3" cy="405.5" r="15" fill="url(#gP)"/>
<circle cx="1939.3" cy="405.5" r="15" fill="url(#gP)"/>
<circle cx="2059.3" cy="405.5" r="15" fill="url(#gP)"/>
<circle cx="1759.7" cy="510.9" r="15" fill="url(#gP)"/>
<circle cx="1879.7" cy="510.9" r="15" fill="url(#gP)"/>
<circle cx="1999.6" cy="510.9" r="15" fill="url(#gP)"/>
<circle cx="2119.6" cy="510.9" r="15" fill="url(#gP)"/>
<circle cx="1820" cy="616.3" r="15" fill="url(#gP)"/>
<circle cx="1940" cy="616.3" r="15" fill="url(#gP)"/>
<circle cx="2060" cy="616.3" r="15" fill="url(#gP)"/>
<circle cx="2179.9" cy="616.3" r="15" fill="url(#gP)"/>
<circle cx="1880.4" cy="721.7" r="15" fill="url(#gP)"/>
<circle cx="2000.3" cy="721.7" r="15" fill="url(#gP)"/>
<circle cx="2120.3" cy="721.7" r="15" fill="url(#gP)"/>
<circle cx="2240.3" cy="721.7" r="15" fill="url(#gP)"/>
</g>
<g>
<line x1="1840.3" y1="937.3" x2="1875.2" y2="920.1" stroke="#2b47e0" stroke-width="6.5"/><line x1="1875.2" y1="920.1" x2="1910.2" y2="902.9" stroke="#d423cb" stroke-width="6.5"/>
<line x1="1910.2" y1="902.9" x2="1926.1" y2="920.1" stroke="#d423cb" stroke-width="6.5"/><line x1="1926.1" y1="920.1" x2="1942.1" y2="937.3" stroke="#2b47e0" stroke-width="6.5"/>
<line x1="1840.3" y1="937.3" x2="1841.5" y2="975.3" stroke="#2b47e0" stroke-width="6.5"/><line x1="1841.5" y1="975.3" x2="1842.7" y2="1013.3" stroke="#d423cb" stroke-width="6.5"/>
<line x1="1842.7" y1="1013.3" x2="1859.3" y2="1037.8" stroke="#d423cb" stroke-width="6.5"/><line x1="1859.3" y1="1037.8" x2="1875.9" y2="1062.4" stroke="#a3899a" stroke-width="6.5"/>
<line x1="1875.9" y1="1062.4" x2="1910.8" y2="1037.8" stroke="#a3899a" stroke-width="6.5"/><line x1="1910.8" y1="1037.8" x2="1945.8" y2="1013.3" stroke="#d423cb" stroke-width="6.5"/>
<line x1="1875.9" y1="1062.4" x2="1856.8" y2="1088.1" stroke="#a3899a" stroke-width="6.5"/><line x1="1856.8" y1="1088.1" x2="1837.8" y2="1113.9" stroke="#d423cb" stroke-width="6.5"/>
<line x1="1875.9" y1="1062.4" x2="1910.8" y2="1088.1" stroke="#a3899a" stroke-width="6.5"/><line x1="1910.8" y1="1088.1" x2="1945.8" y2="1113.9" stroke="#d423cb" stroke-width="6.5"/>
<line x1="1837.8" y1="1113.9" x2="1839.1" y2="1153.1" stroke="#d423cb" stroke-width="6.5"/><line x1="1839.1" y1="1153.1" x2="1840.3" y2="1192.4" stroke="#2b47e0" stroke-width="6.5"/>
<line x1="1840.3" y1="1192.4" x2="1875.9" y2="1210.2" stroke="#2b47e0" stroke-width="6.5"/><line x1="1875.9" y1="1210.2" x2="1911.4" y2="1228" stroke="#d423cb" stroke-width="6.5"/>
<line x1="1911.4" y1="1228" x2="1928.6" y2="1210.2" stroke="#d423cb" stroke-width="6.5"/><line x1="1928.6" y1="1210.2" x2="1945.8" y2="1192.4" stroke="#2b47e0" stroke-width="6.5"/>
<line x1="1942.1" y1="937.3" x2="1977.7" y2="920.1" stroke="#2b47e0" stroke-width="6.5"/><line x1="1977.7" y1="920.1" x2="2013.2" y2="902.9" stroke="#d423cb" stroke-width="6.5"/>
<line x1="2013.2" y1="902.9" x2="2032.8" y2="920.1" stroke="#d423cb" stroke-width="6.5"/><line x1="2032.8" y1="920.1" x2="2052.5" y2="937.3" stroke="#2b47e0" stroke-width="6.5"/>
<line x1="1942.1" y1="937.3" x2="1943.9" y2="975.3" stroke="#2b47e0" stroke-width="6.5"/><line x1="1943.9" y1="975.3" x2="1945.8" y2="1013.3" stroke="#d423cb" stroke-width="6.5"/>
<line x1="1945.8" y1="1013.3" x2="1964.2" y2="1037.8" stroke="#d423cb" stroke-width="6.5"/><line x1="1964.2" y1="1037.8" x2="1982.6" y2="1062.4" stroke="#a3899a" stroke-width="6.5"/>
<line x1="1982.6" y1="1062.4" x2="2016.9" y2="1037.8" stroke="#a3899a" stroke-width="6.5"/><line x1="2016.9" y1="1037.8" x2="2051.2" y2="1013.3" stroke="#d423cb" stroke-width="6.5"/>
<line x1="1982.6" y1="1062.4" x2="1964.2" y2="1088.1" stroke="#a3899a" stroke-width="6.5"/><line x1="1964.2" y1="1088.1" x2="1945.8" y2="1113.9" stroke="#d423cb" stroke-width="6.5"/>
<line x1="1982.6" y1="1062.4" x2="2016.3" y2="1088.1" stroke="#a3899a" stroke-width="6.5"/><line x1="2016.3" y1="1088.1" x2="2050" y2="1113.9" stroke="#d423cb" stroke-width="6.5"/>
<line x1="1945.8" y1="1113.9" x2="1945.8" y2="1153.1" stroke="#d423cb" stroke-width="6.5"/><line x1="1945.8" y1="1153.1" x2="1945.8" y2="1192.4" stroke="#2b47e0" stroke-width="6.5"/>
<line x1="1945.8" y1="1192.4" x2="1980.7" y2="1210.2" stroke="#2b47e0" stroke-width="6.5"/><line x1="1980.7" y1="1210.2" x2="2015.7" y2="1228" stroke="#d423cb" stroke-width="6.5"/>
<line x1="2015.7" y1="1228" x2="2034.1" y2="1210.2" stroke="#d423cb" stroke-width="6.5"/><line x1="2034.1" y1="1210.2" x2="2052.5" y2="1192.4" stroke="#2b47e0" stroke-width="6.5"/>
<line x1="2052.5" y1="937.3" x2="2086.8" y2="920.1" stroke="#2b47e0" stroke-width="6.5"/><line x1="2086.8" y1="920.1" x2="2121.2" y2="902.9" stroke="#d423cb" stroke-width="6.5"/>
<line x1="2121.2" y1="902.9" x2="2142" y2="920.1" stroke="#d423cb" stroke-width="6.5"/><line x1="2142" y1="920.1" x2="2162.9" y2="937.3" stroke="#2b47e0" stroke-width="6.5"/>
<line x1="2052.5" y1="937.3" x2="2051.9" y2="975.3" stroke="#2b47e0" stroke-width="6.5"/><line x1="2051.9" y1="975.3" x2="2051.2" y2="1013.3" stroke="#d423cb" stroke-width="6.5"/>
<line x1="2051.2" y1="1013.3" x2="2069.6" y2="1037.8" stroke="#d423cb" stroke-width="6.5"/><line x1="2069.6" y1="1037.8" x2="2088" y2="1062.4" stroke="#a3899a" stroke-width="6.5"/>
<line x1="2088" y1="1062.4" x2="2124.8" y2="1037.8" stroke="#a3899a" stroke-width="6.5"/><line x1="2124.8" y1="1037.8" x2="2161.6" y2="1013.3" stroke="#d423cb" stroke-width="6.5"/>
<line x1="2088" y1="1062.4" x2="2069" y2="1088.1" stroke="#a3899a" stroke-width="6.5"/><line x1="2069" y1="1088.1" x2="2050" y2="1113.9" stroke="#d423cb" stroke-width="6.5"/>
<line x1="2088" y1="1062.4" x2="2122.4" y2="1088.1" stroke="#a3899a" stroke-width="6.5"/><line x1="2122.4" y1="1088.1" x2="2156.7" y2="1113.9" stroke="#d423cb" stroke-width="6.5"/>
<line x1="2050" y1="1113.9" x2="2051.2" y2="1153.1" stroke="#d423cb" stroke-width="6.5"/><line x1="2051.2" y1="1153.1" x2="2052.5" y2="1192.4" stroke="#2b47e0" stroke-width="6.5"/>
<line x1="2052.5" y1="1192.4" x2="2086.8" y2="1210.2" stroke="#2b47e0" stroke-width="6.5"/><line x1="2086.8" y1="1210.2" x2="2121.2" y2="1228" stroke="#d423cb" stroke-width="6.5"/>
<line x1="2121.2" y1="1228" x2="2138.3" y2="1210.2" stroke="#d423cb" stroke-width="6.5"/><line x1="2138.3" y1="1210.2" x2="2155.5" y2="1192.4" stroke="#2b47e0" stroke-width="6.5"/>
<line x1="2162.9" y1="937.3" x2="2196.6" y2="917" stroke="#2b47e0" stroke-width="6.5"/><line x1="2196.6" y1="917" x2="2230.3" y2="896.8" stroke="#d423cb" stroke-width="6.5"/>
<line x1="2162.9" y1="937.3" x2="2162.2" y2="975.3" stroke="#2b47e0" stroke-width="6.5"/><line x1="2162.2" y1="975.3" x2="2161.6" y2="1013.3" stroke="#d423cb" stroke-width="6.5"/>
<line x1="2161.6" y1="1013.3" x2="2177" y2="1037.8" stroke="#d423cb" stroke-width="6.5"/><line x1="2177" y1="1037.8" x2="2192.3" y2="1062.4" stroke="#a3899a" stroke-width="6.5"/>
<line x1="2192.3" y1="1062.4" x2="2174.5" y2="1088.1" stroke="#a3899a" stroke-width="6.5"/><line x1="2174.5" y1="1088.1" x2="2156.7" y2="1113.9" stroke="#d423cb" stroke-width="6.5"/>
<line x1="2156.7" y1="1113.9" x2="2156.1" y2="1153.1" stroke="#d423cb" stroke-width="6.5"/><line x1="2156.1" y1="1153.1" x2="2155.5" y2="1192.4" stroke="#2b47e0" stroke-width="6.5"/>
<line x1="2155.5" y1="1192.4" x2="2190.5" y2="1210.2" stroke="#2b47e0" stroke-width="6.5"/><line x1="2190.5" y1="1210.2" x2="2225.4" y2="1228" stroke="#d423cb" stroke-width="6.5"/>
<circle cx="1875.9" cy="1062.4" r="19.5" fill="url(#gMo)"/>
<circle cx="1982.6" cy="1062.4" r="19.5" fill="url(#gMo)"/>
<circle cx="2088" cy="1062.4" r="19.5" fill="url(#gMo)"/>
<circle cx="2192.3" cy="1062.4" r="19.5" fill="url(#gMo)"/>
<circle cx="1840.3" cy="937.3" r="17" fill="url(#gSi)"/>
<circle cx="1942.1" cy="937.3" r="17" fill="url(#gSi)"/>
<circle cx="2052.5" cy="937.3" r="17" fill="url(#gSi)"/>
<circle cx="2162.9" cy="937.3" r="17" fill="url(#gSi)"/>
<circle cx="1840.3" cy="1192.4" r="17" fill="url(#gSi)"/>
<circle cx="1945.8" cy="1192.4" r="17" fill="url(#gSi)"/>
<circle cx="2052.5" cy="1192.4" r="17" fill="url(#gSi)"/>
<circle cx="2155.5" cy="1192.4" r="17" fill="url(#gSi)"/>
<circle cx="1913.2" cy="905.9" r="15" fill="url(#gP)"/>
<circle cx="1910.2" cy="902.9" r="15" fill="url(#gP)"/>
<circle cx="2016.2" cy="905.9" r="15" fill="url(#gP)"/>
<circle cx="2013.2" cy="902.9" r="15" fill="url(#gP)"/>
<circle cx="2124.2" cy="905.9" r="15" fill="url(#gP)"/>
<circle cx="2121.2" cy="902.9" r="15" fill="url(#gP)"/>
<circle cx="2233.3" cy="899.8" r="15" fill="url(#gP)"/>
<circle cx="2230.3" cy="896.8" r="15" fill="url(#gP)"/>
<circle cx="1845.7" cy="1016.3" r="15" fill="url(#gP)"/>
<circle cx="1842.7" cy="1013.3" r="15" fill="url(#gP)"/>
<circle cx="1948.8" cy="1016.3" r="15" fill="url(#gP)"/>
<circle cx="1945.8" cy="1013.3" r="15" fill="url(#gP)"/>
<circle cx="2054.2" cy="1016.3" r="15" fill="url(#gP)"/>
<circle cx="2051.2" cy="1013.3" r="15" fill="url(#gP)"/>
<circle cx="2164.6" cy="1016.3" r="15" fill="url(#gP)"/>
<circle cx="2161.6" cy="1013.3" r="15" fill="url(#gP)"/>
<circle cx="1840.8" cy="1116.9" r="15" fill="url(#gP)"/>
<circle cx="1837.8" cy="1113.9" r="15" fill="url(#gP)"/>
<circle cx="1948.8" cy="1116.9" r="15" fill="url(#gP)"/>
<circle cx="1945.8" cy="1113.9" r="15" fill="url(#gP)"/>
<circle cx="2053" cy="1116.9" r="15" fill="url(#gP)"/>
<circle cx="2050" cy="1113.9" r="15" fill="url(#gP)"/>
<circle cx="2159.7" cy="1116.9" r="15" fill="url(#gP)"/>
<circle cx="2156.7" cy="1113.9" r="15" fill="url(#gP)"/>
<circle cx="1914.4" cy="1231" r="15" fill="url(#gP)"/>
<circle cx="1911.4" cy="1228" r="15" fill="url(#gP)"/>
<circle cx="2018.7" cy="1231" r="15" fill="url(#gP)"/>
<circle cx="2015.7" cy="1228" r="15" fill="url(#gP)"/>
<circle cx="2124.2" cy="1231" r="15" fill="url(#gP)"/>
<circle cx="2121.2" cy="1228" r="15" fill="url(#gP)"/>
<circle cx="2228.4" cy="1231" r="15" fill="url(#gP)"/>
<circle cx="2225.4" cy="1228" r="15" fill="url(#gP)"/>
</g>
<rect x="1529" y="141.3" width="864" height="1151.2" fill="none" stroke="#000" stroke-width="7.2" stroke-linejoin="round"/>
<g fill="none" stroke="#000" stroke-width="3.0">
<circle cx="632" cy="2035.2" r="70.1"/>
<circle cx="632" cy="2035.2" r="140.2"/>
<circle cx="632" cy="2035.2" r="210.4"/>
<circle cx="632" cy="2035.2" r="280.5"/>
<circle cx="632" cy="2035.2" r="350.6"/>
<line x1="982.6" y1="2035.2" x2="281.4" y2="2035.2"/>
<line x1="935.6" y1="1859.9" x2="328.4" y2="2210.5"/>
<line x1="807.3" y1="1731.6" x2="456.7" y2="2338.8"/>
<line x1="632" y1="1684.6" x2="632" y2="2385.8"/>
<line x1="456.7" y1="1731.6" x2="807.3" y2="2338.8"/>
<line x1="328.4" y1="1859.9" x2="935.6" y2="2210.5"/>
</g>
<g fill="#ff00ff">
<circle cx="917" cy="2035.2" r="7.1"/>
<circle cx="916.6" cy="2020.3" r="7.1"/>
<circle cx="915.5" cy="2005.4" r="7.1"/>
<circle cx="913.7" cy="1990.6" r="7.1"/>
<circle cx="911.1" cy="1975.9" r="7.1"/>
<circle cx="907.8" cy="1961.3" r="7.1"/>
<circle cx="903.7" cy="1946.9" r="7.1"/>
<circle cx="899" cy="1932.7" r="7.1"/>
<circle cx="893.5" cy="1918.8" r="7.1"/>
<circle cx="887.3" cy="1905.1" r="7.1"/>
<circle cx="880.5" cy="1891.8" r="7.1"/>
<circle cx="872.9" cy="1878.8" r="7.1"/>
<circle cx="864.7" cy="1866.1" r="7.1"/>
<circle cx="855.8" cy="1853.9" r="7.1"/>
<circle cx="846.3" cy="1842.2" r="7.1"/>
<circle cx="836.2" cy="1831" r="7.1"/>
<circle cx="825.5" cy="1820.3" r="7.1"/>
<circle cx="814.2" cy="1810.1" r="7.1"/>
<circle cx="802.4" cy="1800.6" r="7.1"/>
<circle cx="790.1" cy="1791.7" r="7.1"/>
<circle cx="777.4" cy="1783.4" r="7.1"/>
<circle cx="764.1" cy="1775.9" r="7.1"/>
<circle cx="750.5" cy="1769" r="7.1"/>
<circle cx="736.5" cy="1762.9" r="7.1"/>
<circle cx="722.2" cy="1757.6" r="7.1"/>
<circle cx="707.6" cy="1753.1" r="7.1"/>
<circle cx="692.8" cy="1749.3" r="7.1"/>
<circle cx="677.7" cy="1746.4" r="7.1"/>
<circle cx="662.6" cy="1744.3" r="7.1"/>
<circle cx="647.3" cy="1743" r="7.1"/>
<circle cx="632" cy="1742.6" r="7.1"/>
<circle cx="616.7" cy="1743" r="7.1"/>
<circle cx="601.4" cy="1744.3" r="7.1"/>
<circle cx="586.3" cy="1746.4" r="7.1"/>
<circle cx="571.2" cy="1749.3" r="7.1"/>
<circle cx="556.4" cy="1753.1" r="7.1"/>
<circle cx="541.8" cy="1757.6" r="7.1"/>
<circle cx="527.5" cy="1762.9" r="7.1"/>
<circle cx="513.5" cy="1769" r="7.1"/>
<circle cx="499.9" cy="1775.9" r="7.1"/>
<circle cx="486.7" cy="1783.4" r="7.1"/>
<circle cx="473.9" cy="1791.7" r="7.1"/>
<circle cx="461.6" cy="1800.6" r="7.1"/>
<circle cx="449.8" cy="1810.1" r="7.1"/>
<circle cx="438.5" cy="1820.3" r="7.1"/>
<circle cx="427.8" cy="1831" r="7.1"/>
<circle cx="417.7" cy="1842.2" r="7.1"/>
<circle cx="408.2" cy="1853.9" r="7.1"/>
<circle cx="399.3" cy="1866.1" r="7.1"/>
<circle cx="391.1" cy="1878.8" r="7.1"/>
<circle cx="383.5" cy="1891.8" r="7.1"/>
<circle cx="376.7" cy="1905.1" r="7.1"/>
<circle cx="370.5" cy="1918.8" r="7.1"/>
<circle cx="365" cy="1932.7" r="7.1"/>
<circle cx="360.3" cy="1946.9" r="7.1"/>
<circle cx="356.2" cy="1961.3" r="7.1"/>
<circle cx="352.9" cy="1975.9" r="7.1"/>
<circle cx="350.3" cy="1990.6" r="7.1"/>
<circle cx="348.5" cy="2005.4" r="7.1"/>
<circle cx="347.4" cy="2020.3" r="7.1"/>
<circle cx="347" cy="2035.2" r="7.1"/>
<circle cx="347.4" cy="2050.1" r="7.1"/>
<circle cx="348.5" cy="2065" r="7.1"/>
<circle cx="350.3" cy="2079.8" r="7.1"/>
<circle cx="352.9" cy="2094.5" r="7.1"/>
<circle cx="356.2" cy="2109.1" r="7.1"/>
<circle cx="360.3" cy="2123.5" r="7.1"/>
<circle cx="365" cy="2137.7" r="7.1"/>
<circle cx="370.5" cy="2151.6" r="7.1"/>
<circle cx="376.7" cy="2165.3" r="7.1"/>
<circle cx="383.5" cy="2178.7" r="7.1"/>
<circle cx="391.1" cy="2191.6" r="7.1"/>
<circle cx="399.3" cy="2204.3" r="7.1"/>
<circle cx="408.2" cy="2216.5" r="7.1"/>
<circle cx="417.7" cy="2228.2" r="7.1"/>
<circle cx="427.8" cy="2239.4" r="7.1"/>
<circle cx="438.5" cy="2250.1" r="7.1"/>
<circle cx="449.8" cy="2260.3" r="7.1"/>
<circle cx="461.6" cy="2269.8" r="7.1"/>
<circle cx="473.9" cy="2278.7" r="7.1"/>
<circle cx="486.6" cy="2287" r="7.1"/>
<circle cx="499.9" cy="2294.5" r="7.1"/>
<circle cx="513.5" cy="2301.4" r="7.1"/>
<circle cx="527.5" cy="2307.5" r="7.1"/>
<circle cx="541.8" cy="2312.8" r="7.1"/>
<circle cx="556.4" cy="2317.3" r="7.1"/>
<circle cx="571.2" cy="2321.1" r="7.1"/>
<circle cx="586.3" cy="2324" r="7.1"/>
<circle cx="601.4" cy="2326.1" r="7.1"/>
<circle cx="616.7" cy="2327.4" r="7.1"/>
<circle cx="632" cy="2327.8" r="7.1"/>
<circle cx="647.3" cy="2327.4" r="7.1"/>
<circle cx="662.6" cy="2326.1" r="7.1"/>
<circle cx="677.7" cy="2324" r="7.1"/>
<circle cx="692.8" cy="2321.1" r="7.1"/>
<circle cx="707.6" cy="2317.3" r="7.1"/>
<circle cx="722.2" cy="2312.8" r="7.1"/>
<circle cx="736.5" cy="2307.5" r="7.1"/>
<circle cx="750.5" cy="2301.4" r="7.1"/>
<circle cx="764.1" cy="2294.5" r="7.1"/>
<circle cx="777.4" cy="2287" r="7.1"/>
<circle cx="790.1" cy="2278.7" r="7.1"/>
<circle cx="802.4" cy="2269.8" r="7.1"/>
<circle cx="814.2" cy="2260.3" r="7.1"/>
<circle cx="825.5" cy="2250.1" r="7.1"/>
<circle cx="836.2" cy="2239.4" r="7.1"/>
<circle cx="846.3" cy="2228.2" r="7.1"/>
<circle cx="855.8" cy="2216.5" r="7.1"/>
<circle cx="864.7" cy="2204.3" r="7.1"/>
<circle cx="872.9" cy="2191.6" r="7.1"/>
<circle cx="880.5" cy="2178.7" r="7.1"/>
<circle cx="887.3" cy="2165.3" r="7.1"/>
<circle cx="893.5" cy="2151.6" r="7.1"/>
<circle cx="899" cy="2137.7" r="7.1"/>
<circle cx="903.7" cy="2123.5" r="7.1"/>
<circle cx="907.8" cy="2109.1" r="7.1"/>
<circle cx="911.1" cy="2094.5" r="7.1"/>
<circle cx="913.7" cy="2079.8" r="7.1"/>
<circle cx="915.5" cy="2065" r="7.1"/>
<circle cx="916.6" cy="2050.1" r="7.1"/>
</g>
<g fill="#0000ff">
<circle cx="867.6" cy="2035.2" r="7.1"/>
<circle cx="867.3" cy="2022.9" r="7.1"/>
<circle cx="866.4" cy="2010.6" r="7.1"/>
<circle cx="864.9" cy="1998.3" r="7.1"/>
<circle cx="862.8" cy="1986.1" r="7.1"/>
<circle cx="860.1" cy="1974.1" r="7.1"/>
<circle cx="856.9" cy="1962.1" r="7.1"/>
<circle cx="853" cy="1950.4" r="7.1"/>
<circle cx="848.5" cy="1938.8" r="7.1"/>
<circle cx="843.5" cy="1927.4" r="7.1"/>
<circle cx="837.9" cy="1916.3" r="7.1"/>
<circle cx="831.8" cy="1905.5" r="7.1"/>
<circle cx="825" cy="1895" r="7.1"/>
<circle cx="817.8" cy="1884.8" r="7.1"/>
<circle cx="810" cy="1874.9" r="7.1"/>
<circle cx="801.7" cy="1865.5" r="7.1"/>
<circle cx="792.9" cy="1856.5" r="7.1"/>
<circle cx="783.6" cy="1848" r="7.1"/>
<circle cx="773.8" cy="1840" r="7.1"/>
<circle cx="763.6" cy="1832.5" r="7.1"/>
<circle cx="753.1" cy="1825.5" r="7.1"/>
<circle cx="742.1" cy="1819.1" r="7.1"/>
<circle cx="730.8" cy="1813.3" r="7.1"/>
<circle cx="719.1" cy="1808.2" r="7.1"/>
<circle cx="707.2" cy="1803.6" r="7.1"/>
<circle cx="695.1" cy="1799.8" r="7.1"/>
<circle cx="682.7" cy="1796.6" r="7.1"/>
<circle cx="670.2" cy="1794.1" r="7.1"/>
<circle cx="657.5" cy="1792.3" r="7.1"/>
<circle cx="644.8" cy="1791.3" r="7.1"/>
<circle cx="632" cy="1790.9" r="7.1"/>
<circle cx="619.2" cy="1791.3" r="7.1"/>
<circle cx="606.5" cy="1792.3" r="7.1"/>
<circle cx="593.8" cy="1794.1" r="7.1"/>
<circle cx="581.3" cy="1796.6" r="7.1"/>
<circle cx="568.9" cy="1799.8" r="7.1"/>
<circle cx="556.8" cy="1803.6" r="7.1"/>
<circle cx="544.9" cy="1808.2" r="7.1"/>
<circle cx="533.2" cy="1813.3" r="7.1"/>
<circle cx="521.9" cy="1819.1" r="7.1"/>
<circle cx="510.9" cy="1825.5" r="7.1"/>
<circle cx="500.4" cy="1832.5" r="7.1"/>
<circle cx="490.2" cy="1840" r="7.1"/>
<circle cx="480.4" cy="1848" r="7.1"/>
<circle cx="471.1" cy="1856.5" r="7.1"/>
<circle cx="462.3" cy="1865.5" r="7.1"/>
<circle cx="454" cy="1874.9" r="7.1"/>
<circle cx="446.2" cy="1884.8" r="7.1"/>
<circle cx="439" cy="1895" r="7.1"/>
<circle cx="432.2" cy="1905.5" r="7.1"/>
<circle cx="426.1" cy="1916.3" r="7.1"/>
<circle cx="420.5" cy="1927.4" r="7.1"/>
<circle cx="415.5" cy="1938.8" r="7.1"/>
<circle cx="411" cy="1950.4" r="7.1"/>
<circle cx="407.1" cy="1962.1" r="7.1"/>
<circle cx="403.9" cy="1974.1" r="7.1"/>
<circle cx="401.2" cy="1986.1" r="7.1"/>
<circle cx="399.1" cy="1998.3" r="7.1"/>
<circle cx="397.6" cy="2010.6" r="7.1"/>
<circle cx="396.7" cy="2022.9" r="7.1"/>
<circle cx="396.4" cy="2035.2" r="7.1"/>
<circle cx="396.7" cy="2047.5" r="7.1"/>
<circle cx="397.6" cy="2059.8" r="7.1"/>
<circle cx="399.1" cy="2072.1" r="7.1"/>
<circle cx="401.2" cy="2084.3" r="7.1"/>
<circle cx="403.9" cy="2096.3" r="7.1"/>
<circle cx="407.1" cy="2108.3" r="7.1"/>
<circle cx="411" cy="2120" r="7.1"/>
<circle cx="415.5" cy="2131.6" r="7.1"/>
<circle cx="420.5" cy="2143" r="7.1"/>
<circle cx="426.1" cy="2154.1" r="7.1"/>
<circle cx="432.2" cy="2164.9" r="7.1"/>
<circle cx="439" cy="2175.4" r="7.1"/>
<circle cx="446.2" cy="2185.6" r="7.1"/>
<circle cx="454" cy="2195.5" r="7.1"/>
<circle cx="462.3" cy="2204.9" r="7.1"/>
<circle cx="471.1" cy="2213.9" r="7.1"/>
<circle cx="480.4" cy="2222.4" r="7.1"/>
<circle cx="490.2" cy="2230.4" r="7.1"/>
<circle cx="500.4" cy="2237.9" r="7.1"/>
<circle cx="510.9" cy="2244.9" r="7.1"/>
<circle cx="521.9" cy="2251.3" r="7.1"/>
<circle cx="533.2" cy="2257.1" r="7.1"/>
<circle cx="544.9" cy="2262.2" r="7.1"/>
<circle cx="556.8" cy="2266.8" r="7.1"/>
<circle cx="568.9" cy="2270.6" r="7.1"/>
<circle cx="581.3" cy="2273.8" r="7.1"/>
<circle cx="593.8" cy="2276.3" r="7.1"/>
<circle cx="606.5" cy="2278.1" r="7.1"/>
<circle cx="619.2" cy="2279.1" r="7.1"/>
<circle cx="632" cy="2279.5" r="7.1"/>
<circle cx="644.8" cy="2279.1" r="7.1"/>
<circle cx="657.5" cy="2278.1" r="7.1"/>
<circle cx="670.2" cy="2276.3" r="7.1"/>
<circle cx="682.7" cy="2273.8" r="7.1"/>
<circle cx="695.1" cy="2270.6" r="7.1"/>
<circle cx="707.2" cy="2266.8" r="7.1"/>
<circle cx="719.1" cy="2262.2" r="7.1"/>
<circle cx="730.8" cy="2257.1" r="7.1"/>
<circle cx="742.1" cy="2251.3" r="7.1"/>
<circle cx="753.1" cy="2244.9" r="7.1"/>
<circle cx="763.6" cy="2237.9" r="7.1"/>
<circle cx="773.8" cy="2230.4" r="7.1"/>
<circle cx="783.6" cy="2222.4" r="7.1"/>
<circle cx="792.9" cy="2213.9" r="7.1"/>
<circle cx="801.7" cy="2204.9" r="7.1"/>
<circle cx="810" cy="2195.5" r="7.1"/>
<circle cx="817.8" cy="2185.6" r="7.1"/>
<circle cx="825" cy="2175.4" r="7.1"/>
<circle cx="831.8" cy="2164.9" r="7.1"/>
<circle cx="837.9" cy="2154.1" r="7.1"/>
<circle cx="843.5" cy="2143" r="7.1"/>
<circle cx="848.5" cy="2131.6" r="7.1"/>
<circle cx="853" cy="2120" r="7.1"/>
<circle cx="856.9" cy="2108.3" r="7.1"/>
<circle cx="860.1" cy="2096.3" r="7.1"/>
<circle cx="862.8" cy="2084.3" r="7.1"/>
<circle cx="864.9" cy="2072.1" r="7.1"/>
<circle cx="866.4" cy="2059.8" r="7.1"/>
<circle cx="867.3" cy="2047.5" r="7.1"/>
</g>
<g fill="none" stroke="#000" stroke-width="3.0">
<circle cx="1979.1" cy="2040.4" r="118.2"/>
<circle cx="1979.1" cy="2040.4" r="236.3"/>
<circle cx="1979.1" cy="2040.4" r="354.5"/>
<line x1="2333.6" y1="2040.4" x2="1624.6" y2="2040.4"/>
<line x1="2286.1" y1="1863.2" x2="1672.1" y2="2217.7"/>
<line x1="2156.3" y1="1733.4" x2="1801.8" y2="2347.4"/>
<line x1="1979.1" y1="1685.9" x2="1979.1" y2="2394.9"/>
<line x1="1801.8" y1="1733.4" x2="2156.3" y2="2347.4"/>
<line x1="1672.1" y1="1863.2" x2="2286.1" y2="2217.7"/>
</g>
<g fill="#ff00ff">
<circle cx="2277.8" cy="2040.4" r="7.3"/>
<circle cx="2277.4" cy="2024.8" r="7.3"/>
<circle cx="2276.3" cy="2009.2" r="7.3"/>
<circle cx="2274.3" cy="1993.6" r="7.3"/>
<circle cx="2271.6" cy="1978.2" r="7.3"/>
<circle cx="2268.1" cy="1963" r="7.3"/>
<circle cx="2263.9" cy="1947.9" r="7.3"/>
<circle cx="2258.9" cy="1933" r="7.3"/>
<circle cx="2253.2" cy="1918.4" r="7.3"/>
<circle cx="2246.7" cy="1904" r="7.3"/>
<circle cx="2239.5" cy="1890" r="7.3"/>
<circle cx="2231.6" cy="1876.4" r="7.3"/>
<circle cx="2223" cy="1863.2" r="7.3"/>
<circle cx="2213.7" cy="1850.4" r="7.3"/>
<circle cx="2203.8" cy="1838.1" r="7.3"/>
<circle cx="2193.2" cy="1826.3" r="7.3"/>
<circle cx="2182" cy="1815.1" r="7.3"/>
<circle cx="2170.2" cy="1804.5" r="7.3"/>
<circle cx="2157.8" cy="1794.5" r="7.3"/>
<circle cx="2144.9" cy="1785.1" r="7.3"/>
<circle cx="2131.5" cy="1776.5" r="7.3"/>
<circle cx="2117.6" cy="1768.5" r="7.3"/>
<circle cx="2103.3" cy="1761.3" r="7.3"/>
<circle cx="2088.7" cy="1754.9" r="7.3"/>
<circle cx="2073.7" cy="1749.4" r="7.3"/>
<circle cx="2058.4" cy="1744.6" r="7.3"/>
<circle cx="2042.8" cy="1740.6" r="7.3"/>
<circle cx="2027.1" cy="1737.6" r="7.3"/>
<circle cx="2011.2" cy="1735.4" r="7.3"/>
<circle cx="1995.2" cy="1734" r="7.3"/>
<circle cx="1979.1" cy="1733.6" r="7.3"/>
<circle cx="1963" cy="1734" r="7.3"/>
<circle cx="1947" cy="1735.4" r="7.3"/>
<circle cx="1931.1" cy="1737.6" r="7.3"/>
<circle cx="1915.4" cy="1740.6" r="7.3"/>
<circle cx="1899.8" cy="1744.6" r="7.3"/>
<circle cx="1884.5" cy="1749.4" r="7.3"/>
<circle cx="1869.5" cy="1754.9" r="7.3"/>
<circle cx="1854.9" cy="1761.3" r="7.3"/>
<circle cx="1840.6" cy="1768.5" r="7.3"/>
<circle cx="1826.7" cy="1776.5" r="7.3"/>
<circle cx="1813.3" cy="1785.1" r="7.3"/>
<circle cx="1800.4" cy="1794.5" r="7.3"/>
<circle cx="1788" cy="1804.5" r="7.3"/>
<circle cx="1776.2" cy="1815.1" r="7.3"/>
<circle cx="1765" cy="1826.3" r="7.3"/>
<circle cx="1754.4" cy="1838.1" r="7.3"/>
<circle cx="1744.5" cy="1850.4" r="7.3"/>
<circle cx="1735.2" cy="1863.2" r="7.3"/>
<circle cx="1726.6" cy="1876.4" r="7.3"/>
<circle cx="1718.7" cy="1890" r="7.3"/>
<circle cx="1711.5" cy="1904" r="7.3"/>
<circle cx="1705" cy="1918.4" r="7.3"/>
<circle cx="1699.3" cy="1933" r="7.3"/>
<circle cx="1694.3" cy="1947.9" r="7.3"/>
<circle cx="1690.1" cy="1963" r="7.3"/>
<circle cx="1686.6" cy="1978.2" r="7.3"/>
<circle cx="1683.9" cy="1993.6" r="7.3"/>
<circle cx="1681.9" cy="2009.2" r="7.3"/>
<circle cx="1680.8" cy="2024.8" r="7.3"/>
<circle cx="1680.4" cy="2040.4" r="7.3"/>
<circle cx="1680.8" cy="2056" r="7.3"/>
<circle cx="1681.9" cy="2071.6" r="7.3"/>
<circle cx="1683.9" cy="2087.2" r="7.3"/>
<circle cx="1686.6" cy="2102.6" r="7.3"/>
<circle cx="1690.1" cy="2117.8" r="7.3"/>
<circle cx="1694.3" cy="2132.9" r="7.3"/>
<circle cx="1699.3" cy="2147.8" r="7.3"/>
<circle cx="1705" cy="2162.4" r="7.3"/>
<circle cx="1711.5" cy="2176.8" r="7.3"/>
<circle cx="1718.7" cy="2190.8" r="7.3"/>
<circle cx="1726.6" cy="2204.4" r="7.3"/>
<circle cx="1735.2" cy="2217.6" r="7.3"/>
<circle cx="1744.5" cy="2230.4" r="7.3"/>
<circle cx="1754.4" cy="2242.7" r="7.3"/>
<circle cx="1765" cy="2254.5" r="7.3"/>
<circle cx="1776.2" cy="2265.7" r="7.3"/>
<circle cx="1788" cy="2276.3" r="7.3"/>
<circle cx="1800.4" cy="2286.3" r="7.3"/>
<circle cx="1813.3" cy="2295.7" r="7.3"/>
<circle cx="1826.7" cy="2304.3" r="7.3"/>
<circle cx="1840.6" cy="2312.3" r="7.3"/>
<circle cx="1854.9" cy="2319.5" r="7.3"/>
<circle cx="1869.5" cy="2325.9" r="7.3"/>
<circle cx="1884.5" cy="2331.4" r="7.3"/>
<circle cx="1899.8" cy="2336.2" r="7.3"/>
<circle cx="1915.4" cy="2340.2" r="7.3"/>
<circle cx="1931.1" cy="2343.2" r="7.3"/>
<circle cx="1947" cy="2345.4" r="7.3"/>
<circle cx="1963" cy="2346.8" r="7.3"/>
<circle cx="1979.1" cy="2347.2" r="7.3"/>
<circle cx="1995.2" cy="2346.8" r="7.3"/>
<circle cx="2011.2" cy="2345.4" r="7.3"/>
<circle cx="2027.1" cy="2343.2" r="7.3"/>
<circle cx="2042.8" cy="2340.2" r="7.3"/>
<circle cx="2058.4" cy="2336.2" r="7.3"/>
<circle cx="2073.7" cy="2331.4" r="7.3"/>
<circle cx="2088.7" cy="2325.9" r="7.3"/>
<circle cx="2103.3" cy="2319.5" r="7.3"/>
<circle cx="2117.6" cy="2312.3" r="7.3"/>
<circle cx="2131.5" cy="2304.3" r="7.3"/>
<circle cx="2144.9" cy="2295.7" r="7.3"/>
<circle cx="2157.8" cy="2286.3" r="7.3"/>
<circle cx="2170.2" cy="2276.3" r="7.3"/>
<circle cx="2182" cy="2265.7" r="7.3"/>
<circle cx="2193.2" cy="2254.5" r="7.3"/>
<circle cx="2203.8" cy="2242.7" r="7.3"/>
<circle cx="2213.7" cy="2230.4" r="7.3"/>
<circle cx="2223" cy="2217.6" r="7.3"/>
<circle cx="2231.6" cy="2204.4" r="7.3"/>
<circle cx="2239.5" cy="2190.8" r="7.3"/>
<circle cx="2246.7" cy="2176.8" r="7.3"/>
<circle cx="2253.2" cy="2162.4" r="7.3"/>
<circle cx="2258.9" cy="2147.8" r="7.3"/>
<circle cx="2263.9" cy="2132.9" r="7.3"/>
<circle cx="2268.1" cy="2117.8" r="7.3"/>
<circle cx="2271.6" cy="2102.6" r="7.3"/>
<circle cx="2274.3" cy="2087.2" r="7.3"/>
<circle cx="2276.3" cy="2071.6" r="7.3"/>
<circle cx="2277.4" cy="2056" r="7.3"/>
</g>
<g fill="#0000ff">
<circle cx="2303.9" cy="2040.4" r="7.3"/>
<circle cx="2303.5" cy="2023.4" r="7.3"/>
<circle cx="2302.3" cy="2006.4" r="7.3"/>
<circle cx="2300.2" cy="1989.5" r="7.3"/>
<circle cx="2297.3" cy="1972.8" r="7.3"/>
<circle cx="2293.6" cy="1956.1" r="7.3"/>
<circle cx="2289.1" cy="1939.7" r="7.3"/>
<circle cx="2283.8" cy="1923.4" r="7.3"/>
<circle cx="2277.7" cy="1907.5" r="7.3"/>
<circle cx="2270.8" cy="1891.8" r="7.3"/>
<circle cx="2263.1" cy="1876.4" r="7.3"/>
<circle cx="2254.6" cy="1861.5" r="7.3"/>
<circle cx="2245.4" cy="1846.9" r="7.3"/>
<circle cx="2235.4" cy="1832.9" r="7.3"/>
<circle cx="2224.6" cy="1819.3" r="7.3"/>
<circle cx="2213.2" cy="1806.3" r="7.3"/>
<circle cx="2201.1" cy="1793.9" r="7.3"/>
<circle cx="2188.3" cy="1782.1" r="7.3"/>
<circle cx="2174.8" cy="1771" r="7.3"/>
<circle cx="2160.8" cy="1760.6" r="7.3"/>
<circle cx="2146.2" cy="1751" r="7.3"/>
<circle cx="2131.1" cy="1742.2" r="7.3"/>
<circle cx="2115.5" cy="1734.2" r="7.3"/>
<circle cx="2099.4" cy="1727" r="7.3"/>
<circle cx="2083" cy="1720.7" r="7.3"/>
<circle cx="2066.2" cy="1715.4" r="7.3"/>
<circle cx="2049.1" cy="1711" r="7.3"/>
<circle cx="2031.8" cy="1707.6" r="7.3"/>
<circle cx="2014.3" cy="1705.1" r="7.3"/>
<circle cx="1996.8" cy="1703.6" r="7.3"/>
<circle cx="1979.1" cy="1703.1" r="7.3"/>
<circle cx="1961.4" cy="1703.6" r="7.3"/>
<circle cx="1943.9" cy="1705.1" r="7.3"/>
<circle cx="1926.4" cy="1707.6" r="7.3"/>
<circle cx="1909.1" cy="1711" r="7.3"/>
<circle cx="1892" cy="1715.4" r="7.3"/>
<circle cx="1875.2" cy="1720.7" r="7.3"/>
<circle cx="1858.8" cy="1727" r="7.3"/>
<circle cx="1842.7" cy="1734.2" r="7.3"/>
<circle cx="1827.1" cy="1742.2" r="7.3"/>
<circle cx="1812" cy="1751" r="7.3"/>
<circle cx="1797.4" cy="1760.6" r="7.3"/>
<circle cx="1783.4" cy="1771" r="7.3"/>
<circle cx="1769.9" cy="1782.1" r="7.3"/>
<circle cx="1757.1" cy="1793.9" r="7.3"/>
<circle cx="1745" cy="1806.3" r="7.3"/>
<circle cx="1733.6" cy="1819.3" r="7.3"/>
<circle cx="1722.8" cy="1832.9" r="7.3"/>
<circle cx="1712.8" cy="1846.9" r="7.3"/>
<circle cx="1703.6" cy="1861.5" r="7.3"/>
<circle cx="1695.1" cy="1876.4" r="7.3"/>
<circle cx="1687.4" cy="1891.8" r="7.3"/>
<circle cx="1680.5" cy="1907.5" r="7.3"/>
<circle cx="1674.4" cy="1923.4" r="7.3"/>
<circle cx="1669.1" cy="1939.7" r="7.3"/>
<circle cx="1664.6" cy="1956.1" r="7.3"/>
<circle cx="1660.9" cy="1972.8" r="7.3"/>
<circle cx="1658" cy="1989.5" r="7.3"/>
<circle cx="1655.9" cy="2006.4" r="7.3"/>
<circle cx="1654.7" cy="2023.4" r="7.3"/>
<circle cx="1654.3" cy="2040.4" r="7.3"/>
<circle cx="1654.7" cy="2057.4" r="7.3"/>
<circle cx="1655.9" cy="2074.4" r="7.3"/>
<circle cx="1658" cy="2091.3" r="7.3"/>
<circle cx="1660.9" cy="2108" r="7.3"/>
<circle cx="1664.6" cy="2124.7" r="7.3"/>
<circle cx="1669.1" cy="2141.1" r="7.3"/>
<circle cx="1674.4" cy="2157.4" r="7.3"/>
<circle cx="1680.5" cy="2173.3" r="7.3"/>
<circle cx="1687.4" cy="2189" r="7.3"/>
<circle cx="1695.1" cy="2204.4" r="7.3"/>
<circle cx="1703.6" cy="2219.3" r="7.3"/>
<circle cx="1712.8" cy="2233.9" r="7.3"/>
<circle cx="1722.8" cy="2247.9" r="7.3"/>
<circle cx="1733.6" cy="2261.5" r="7.3"/>
<circle cx="1745" cy="2274.5" r="7.3"/>
<circle cx="1757.1" cy="2286.9" r="7.3"/>
<circle cx="1769.9" cy="2298.7" r="7.3"/>
<circle cx="1783.4" cy="2309.8" r="7.3"/>
<circle cx="1797.4" cy="2320.2" r="7.3"/>
<circle cx="1812" cy="2329.8" r="7.3"/>
<circle cx="1827.1" cy="2338.6" r="7.3"/>
<circle cx="1842.7" cy="2346.6" r="7.3"/>
<circle cx="1858.8" cy="2353.8" r="7.3"/>
<circle cx="1875.2" cy="2360.1" r="7.3"/>
<circle cx="1892" cy="2365.4" r="7.3"/>
<circle cx="1909.1" cy="2369.8" r="7.3"/>
<circle cx="1926.4" cy="2373.2" r="7.3"/>
<circle cx="1943.9" cy="2375.7" r="7.3"/>
<circle cx="1961.4" cy="2377.2" r="7.3"/>
<circle cx="1979.1" cy="2377.7" r="7.3"/>
<circle cx="1996.8" cy="2377.2" r="7.3"/>
<circle cx="2014.3" cy="2375.7" r="7.3"/>
<circle cx="2031.8" cy="2373.2" r="7.3"/>
<circle cx="2049.1" cy="2369.8" r="7.3"/>
<circle cx="2066.2" cy="2365.4" r="7.3"/>
<circle cx="2083" cy="2360.1" r="7.3"/>
<circle cx="2099.4" cy="2353.8" r="7.3"/>
<circle cx="2115.5" cy="2346.6" r="7.3"/>
<circle cx="2131.1" cy="2338.6" r="7.3"/>
<circle cx="2146.2" cy="2329.8" r="7.3"/>
<circle cx="2160.8" cy="2320.2" r="7.3"/>
<circle cx="2174.8" cy="2309.8" r="7.3"/>
<circle cx="2188.3" cy="2298.7" r="7.3"/>
<circle cx="2201.1" cy="2286.9" r="7.3"/>
<circle cx="2213.2" cy="2274.5" r="7.3"/>
<circle cx="2224.6" cy="2261.5" r="7.3"/>
<circle cx="2235.4" cy="2247.9" r="7.3"/>
<circle cx="2245.4" cy="2233.9" r="7.3"/>
<circle cx="2254.6" cy="2219.3" r="7.3"/>
<circle cx="2263.1" cy="2204.4" r="7.3"/>
<circle cx="2270.8" cy="2189" r="7.3"/>
<circle cx="2277.7" cy="2173.3" r="7.3"/>
<circle cx="2283.8" cy="2157.4" r="7.3"/>
<circle cx="2289.1" cy="2141.1" r="7.3"/>
<circle cx="2293.6" cy="2124.7" r="7.3"/>
<circle cx="2297.3" cy="2108" r="7.3"/>
<circle cx="2300.2" cy="2091.3" r="7.3"/>
<circle cx="2302.3" cy="2074.4" r="7.3"/>
<circle cx="2303.5" cy="2057.4" r="7.3"/>
</g>
<text x="631.5" y="1664.7" font-size="54.5" text-anchor="middle">90</text>
<text x="838.2" y="1719.3" font-size="54.5" text-anchor="middle">60</text>
<text x="984.6" y="1865.7" font-size="54.5" text-anchor="middle">30</text>
<text x="1027.7" y="2056.5" font-size="54.5" text-anchor="middle">0</text>
<text x="994.7" y="2260.3" font-size="54.5" text-anchor="middle">330</text>
<text x="841" y="2405.3" font-size="54.5" text-anchor="middle">300</text>
<text x="635.8" y="2456.9" font-size="54.5" text-anchor="middle">270</text>
<text x="426.3" y="2405.3" font-size="54.5" text-anchor="middle">240</text>
<text x="264.1" y="2260.3" font-size="54.5" text-anchor="middle">210</text>
<text x="211.6" y="2057.1" font-size="54.5" text-anchor="middle">180</text>
<text x="264.1" y="1855.5" font-size="54.5" text-anchor="middle">150</text>
<text x="427.8" y="1707.7" font-size="54.5" text-anchor="middle">120</text>
<text x="541.1" y="1713.5" font-size="54.5" text-anchor="middle" fill="#1a7f1a" style="fill:#1a7f1a">250</text>
<text x="582.8" y="1854.1" font-size="54.5" text-anchor="middle" fill="#1a7f1a" style="fill:#1a7f1a">150</text>
<text x="620" y="1991.9" font-size="54.5" text-anchor="middle" fill="#1a7f1a" style="fill:#1a7f1a">50</text>
<text x="1974.6" y="1663.4" font-size="54.5" text-anchor="middle">90</text>
<text x="2176.6" y="1714.6" font-size="54.5" text-anchor="middle">60</text>
<text x="2340" y="1874.9" font-size="54.5" text-anchor="middle">30</text>
<text x="2368.8" y="2063.9" font-size="54.5" text-anchor="middle">0</text>
<text x="2340" y="2273.8" font-size="54.5" text-anchor="middle">330</text>
<text x="2179.8" y="2430.8" font-size="54.5" text-anchor="middle">300</text>
<text x="1977.9" y="2478.9" font-size="54.5" text-anchor="middle">270</text>
<text x="1779.1" y="2430.8" font-size="54.5" text-anchor="middle">240</text>
<text x="1619" y="2273.8" font-size="54.5" text-anchor="middle">210</text>
<text x="1558" y="2063.9" font-size="54.5" text-anchor="middle">180</text>
<text x="1617.4" y="1852.5" font-size="54.5" text-anchor="middle">150</text>
<text x="1776" y="1703.5" font-size="54.5" text-anchor="middle">120</text>
<text x="1879" y="1690.4" font-size="54.5" text-anchor="middle" fill="#1a7f1a" style="fill:#1a7f1a">0.3</text>
<text x="1908.2" y="1806.4" font-size="54.5" text-anchor="middle" fill="#1a7f1a" style="fill:#1a7f1a">0.2</text>
<text x="1939.4" y="1921.3" font-size="54.5" text-anchor="middle" fill="#1a7f1a" style="fill:#1a7f1a">0.1</text>
<text x="548.4" y="1572.7" font-size="84" style="font-style:italic;">Y</text>
<text x="600.3" y="1572" font-size="78.6">(</text>
<text x="627.2" y="1572" font-size="72" style="font-family:'Liberation Serif', 'Times New Roman', serif;">θ</text>
<text x="668.2" y="1572" font-size="78.6">)</text>
<text x="1904.2" y="1568" font-size="80" style="font-style:italic;">ν</text>
<text x="1941.2" y="1567.7" font-size="79.5">(</text>
<text x="1967.7" y="1568" font-size="71" style="font-family:'Liberation Serif', 'Times New Roman', serif;">θ</text>
<text x="2009.6" y="1567.7" font-size="79.5">)</text>
<text x="14" y="1552" font-size="76">(c)</text>
<text x="1223" y="1553" font-size="76">(d)</text>
<circle cx="1049.7" cy="1679.8" r="16" fill="#ff00ff"/>
<circle cx="1049.7" cy="1778" r="16" fill="#0000ff"/>
<text x="1134.5" y="1701.9" font-size="63">ML-MoSi<tspan font-size="36" dy="23">2</tspan><tspan dy="-23">P</tspan><tspan font-size="36" dy="23">4</tspan></text>
<text x="1134.5" y="1798.6" font-size="63">ML-MoSi<tspan font-size="36" dy="24.4">2</tspan><tspan dy="-24.4">As</tspan><tspan font-size="36" dy="24.4">4</tspan></text>
</svg></body></html>
